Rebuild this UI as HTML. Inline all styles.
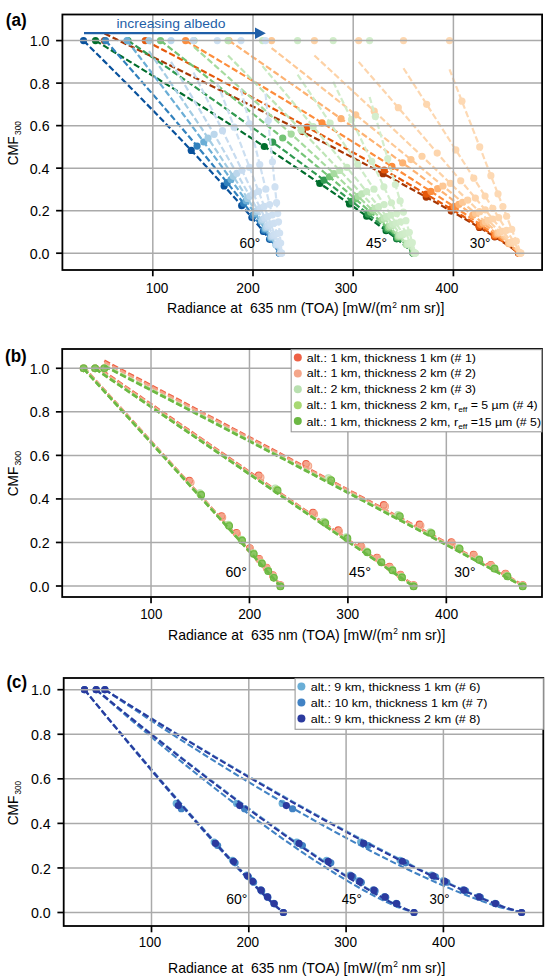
<!DOCTYPE html><html><head><meta charset="utf-8"><style>html,body{margin:0;padding:0;background:#fff;width:550px;height:979px;overflow:hidden}svg{display:block}text{font-family:"Liberation Sans",sans-serif;white-space:pre}</style></head><body>
<svg width="550" height="979" viewBox="0 0 550 979" font-family="Liberation Sans, sans-serif">
<rect width="550" height="979" fill="#fff"/>
<defs><clipPath id="ca"><rect x="62.4" y="14.5" width="479.7" height="255.5"/></clipPath></defs>
<g clip-path="url(#ca)">
<path d="M104.5,33.58 L115.87,39.07 L127.21,44.56 L138.52,50.06 L149.81,55.55 L161.06,61.04 L172.27,66.53 L183.46,72.02 L194.61,77.51 L205.72,83 L216.81,88.49 L227.85,93.98 L238.85,99.47 L249.82,104.96 L260.75,110.45 L271.63,115.94 L282.47,121.43 L293.27,126.92 L304.01,132.41 L314.71,137.9 L325.36,143.39 L335.96,148.88 L346.5,154.37 L356.98,159.86 L367.4,165.35 L377.75,170.84 L388.04,176.33 L398.25,181.82 L408.39,187.32 L418.44,192.81 L428.4,198.3 L438.26,203.79 L448.01,209.28 L457.64,214.77 L467.13,220.26 L476.47,225.75 L485.61,231.24 L494.54,236.73 L503.16,242.22 L511.34,247.71 L518.5,253.2" fill="none" stroke="#a63603" stroke-width="2.2" stroke-dasharray="6.3 2.7"/>
<circle cx="104.5" cy="40.6" r="3.6" fill="#a63603"/>
<circle cx="302.41" cy="131.59" r="3.6" fill="#a63603"/>
<circle cx="383.09" cy="173.69" r="3.6" fill="#a63603"/>
<circle cx="426.19" cy="197.07" r="3.6" fill="#a63603"/>
<circle cx="451.23" cy="211.11" r="3.6" fill="#a63603"/>
<circle cx="479.37" cy="227.48" r="3.6" fill="#a63603"/>
<circle cx="494.7" cy="236.83" r="3.6" fill="#a63603"/>
<circle cx="518.5" cy="253.2" r="3.6" fill="#a63603"/>
<path d="M145.3,40.6 L155.45,45.91 L165.57,51.23 L175.67,56.54 L185.75,61.86 L195.81,67.17 L205.83,72.49 L215.83,77.81 L225.81,83.12 L235.76,88.44 L245.68,93.75 L255.57,99.06 L265.43,104.38 L275.26,109.69 L285.06,115.01 L294.82,120.32 L304.55,125.64 L314.25,130.95 L323.9,136.27 L333.52,141.58 L343.1,146.9 L352.64,152.21 L362.13,157.53 L371.58,162.84 L380.97,168.16 L390.32,173.47 L399.61,178.79 L408.84,184.11 L418.01,189.42 L427.12,194.73 L436.15,200.05 L445.1,205.37 L453.96,210.68 L462.73,215.99 L471.39,221.31 L479.92,226.62 L488.3,231.94 L496.5,237.25 L504.45,242.57 L512.05,247.88 L518.8,253.2" fill="none" stroke="#e5580a" stroke-width="2.2" stroke-dasharray="6.3 2.7"/>
<circle cx="145.3" cy="40.6" r="3.6" fill="#e5580a"/>
<circle cx="307.17" cy="127.08" r="3.6" fill="#e5580a"/>
<circle cx="384.21" cy="170" r="3.6" fill="#e5580a"/>
<circle cx="426.24" cy="194.22" r="3.6" fill="#e5580a"/>
<circle cx="450.94" cy="208.86" r="3.6" fill="#e5580a"/>
<circle cx="478.98" cy="226.03" r="3.6" fill="#e5580a"/>
<circle cx="494.41" cy="235.89" r="3.6" fill="#e5580a"/>
<circle cx="518.8" cy="253.2" r="3.6" fill="#e5580a"/>
<path d="M185.6,40.6 L194.56,45.91 L203.51,51.23 L212.43,56.54 L221.34,61.86 L230.23,67.17 L239.1,72.49 L247.96,77.81 L256.79,83.12 L265.6,88.44 L274.38,93.75 L283.15,99.06 L291.89,104.38 L300.61,109.69 L309.31,115.01 L317.98,120.32 L326.62,125.64 L335.24,130.95 L343.82,136.27 L352.38,141.58 L360.91,146.9 L369.4,152.21 L377.86,157.53 L386.29,162.84 L394.67,168.16 L403.02,173.47 L411.33,178.79 L419.59,184.11 L427.8,189.42 L435.96,194.73 L444.06,200.05 L452.1,205.37 L460.08,210.68 L467.98,215.99 L475.79,221.31 L483.51,226.62 L491.1,231.94 L498.56,237.25 L505.82,242.57 L512.8,247.88 L519.1,253.2" fill="none" stroke="#fd8d3c" stroke-width="2.2" stroke-dasharray="6.3 2.7"/>
<circle cx="185.6" cy="40.6" r="3.6" fill="#fd8d3c"/>
<circle cx="321.98" cy="122.78" r="3.6" fill="#fd8d3c"/>
<circle cx="391.92" cy="166.41" r="3.6" fill="#fd8d3c"/>
<circle cx="430.88" cy="191.42" r="3.6" fill="#fd8d3c"/>
<circle cx="454.04" cy="206.65" r="3.6" fill="#fd8d3c"/>
<circle cx="480.59" cy="224.61" r="3.6" fill="#fd8d3c"/>
<circle cx="495.35" cy="234.95" r="3.6" fill="#fd8d3c"/>
<circle cx="519.1" cy="253.2" r="3.6" fill="#fd8d3c"/>
<path d="M229,40.6 L236.72,45.91 L244.42,51.23 L252.12,56.54 L259.8,61.86 L267.46,67.17 L275.11,72.49 L282.75,77.81 L290.37,83.12 L297.98,88.44 L305.57,93.75 L313.15,99.06 L320.71,104.38 L328.25,109.69 L335.77,115.01 L343.28,120.32 L350.76,125.64 L358.23,130.95 L365.68,136.27 L373.1,141.58 L380.5,146.9 L387.88,152.21 L395.23,157.53 L402.56,162.84 L409.86,168.16 L417.13,173.47 L424.36,178.79 L431.57,184.11 L438.74,189.42 L445.87,194.73 L452.96,200.05 L460.01,205.37 L467,210.68 L473.94,215.99 L480.82,221.31 L487.62,226.62 L494.34,231.94 L500.95,237.25 L507.41,242.57 L513.67,247.88 L519.4,253.2" fill="none" stroke="#fdb272" stroke-width="2.2" stroke-dasharray="6.3 2.7"/>
<circle cx="229" cy="40.6" r="3.6" fill="#fdb272"/>
<circle cx="340.99" cy="118.7" r="3.6" fill="#fdb272"/>
<circle cx="402.67" cy="162.93" r="3.6" fill="#fdb272"/>
<circle cx="437.74" cy="188.67" r="3.6" fill="#fdb272"/>
<circle cx="458.82" cy="204.47" r="3.6" fill="#fdb272"/>
<circle cx="483.23" cy="223.19" r="3.6" fill="#fdb272"/>
<circle cx="496.94" cy="234.02" r="3.6" fill="#fdb272"/>
<circle cx="519.4" cy="253.2" r="3.6" fill="#fdb272"/>
<circle cx="472.81" cy="215.13" r="3.6" fill="#fdb272"/>
<circle cx="508.62" cy="243.58" r="3.6" fill="#fdb272"/>
<path d="M271.6,48.04 L278.12,53.17 L284.63,58.3 L291.14,63.43 L297.63,68.56 L304.11,73.69 L310.59,78.81 L317.05,83.94 L323.51,89.07 L329.95,94.2 L336.39,99.33 L342.81,104.46 L349.22,109.59 L355.62,114.72 L362.01,119.85 L368.38,124.98 L374.74,130.1 L381.09,135.23 L387.42,140.36 L393.74,145.49 L400.04,150.62 L406.33,155.75 L412.6,160.88 L418.85,166.01 L425.08,171.14 L431.29,176.27 L437.48,181.39 L443.64,186.52 L449.79,191.65 L455.9,196.78 L461.99,201.91 L468.04,207.04 L474.06,212.17 L480.04,217.3 L485.98,222.43 L491.87,227.56 L497.69,232.68 L503.44,237.81 L509.08,242.94 L514.58,248.07 L519.7,253.2" fill="none" stroke="#fdc895" stroke-width="2.2" stroke-dasharray="6.3 2.7"/>
<circle cx="271.6" cy="40.6" r="3.6" fill="#fdc895"/>
<circle cx="355.75" cy="114.83" r="3.6" fill="#fdc895"/>
<circle cx="410.96" cy="159.54" r="3.6" fill="#fdc895"/>
<circle cx="442.99" cy="185.98" r="3.6" fill="#fdc895"/>
<circle cx="462.46" cy="202.31" r="3.6" fill="#fdc895"/>
<circle cx="485.24" cy="221.78" r="3.6" fill="#fdc895"/>
<circle cx="498.15" cy="233.09" r="3.6" fill="#fdc895"/>
<circle cx="519.7" cy="253.2" r="3.6" fill="#fdc895"/>
<circle cx="475.48" cy="213.38" r="3.6" fill="#fdc895"/>
<circle cx="509.25" cy="243.1" r="3.6" fill="#fdc895"/>
<path d="M314.4,55.48 L319.74,60.42 L325.08,65.37 L330.41,70.31 L335.74,75.25 L341.06,80.2 L346.37,85.14 L351.68,90.08 L356.98,95.03 L362.28,99.97 L367.56,104.91 L372.85,109.85 L378.12,114.8 L383.38,119.74 L388.64,124.68 L393.89,129.63 L399.14,134.57 L404.37,139.51 L409.59,144.46 L414.81,149.4 L420.01,154.34 L425.21,159.28 L430.39,164.23 L435.56,169.17 L440.72,174.11 L445.87,179.06 L451,184 L456.12,188.94 L461.22,193.88 L466.31,198.83 L471.37,203.77 L476.42,208.71 L481.44,213.66 L486.44,218.6 L491.41,223.54 L496.35,228.49 L501.25,233.43 L506.1,238.37 L510.88,243.31 L515.57,248.26 L520,253.2" fill="none" stroke="#fdd2a6" stroke-width="2.2" stroke-dasharray="6.3 2.7"/>
<circle cx="314.4" cy="40.6" r="3.6" fill="#fdd2a6"/>
<circle cx="374.22" cy="111.14" r="3.6" fill="#fdd2a6"/>
<circle cx="422.01" cy="156.24" r="3.6" fill="#fdd2a6"/>
<circle cx="450.3" cy="183.33" r="3.6" fill="#fdd2a6"/>
<circle cx="467.7" cy="200.18" r="3.6" fill="#fdd2a6"/>
<circle cx="488.24" cy="220.38" r="3.6" fill="#fdd2a6"/>
<circle cx="500.01" cy="232.17" r="3.6" fill="#fdd2a6"/>
<circle cx="520" cy="253.2" r="3.6" fill="#fdd2a6"/>
<circle cx="479.42" cy="211.66" r="3.6" fill="#fdd2a6"/>
<circle cx="510.22" cy="242.62" r="3.6" fill="#fdd2a6"/>
<path d="M358.7,61.86 L362.85,66.64 L367,71.43 L371.15,76.21 L375.29,80.99 L379.43,85.78 L383.56,90.56 L387.7,95.34 L391.83,100.13 L395.95,104.91 L400.07,109.69 L404.19,114.48 L408.3,119.26 L412.41,124.05 L416.52,128.83 L420.62,133.61 L424.72,138.4 L428.81,143.18 L432.9,147.96 L436.98,152.75 L441.05,157.53 L445.12,162.31 L449.19,167.1 L453.25,171.88 L457.3,176.66 L461.34,181.45 L465.38,186.23 L469.41,191.01 L473.43,195.8 L477.44,200.58 L481.44,205.36 L485.43,210.15 L489.4,214.93 L493.37,219.72 L497.31,224.5 L501.24,229.28 L505.15,234.07 L509.03,238.85 L512.87,243.63 L516.66,248.42 L520.3,253.2" fill="none" stroke="#fdd5ad" stroke-width="2.2" stroke-dasharray="6.3 2.7"/>
<circle cx="358.7" cy="40.6" r="3.6" fill="#fdd5ad"/>
<circle cx="398.3" cy="107.64" r="3.6" fill="#fdd5ad"/>
<circle cx="437.22" cy="153.04" r="3.6" fill="#fdd5ad"/>
<circle cx="460.73" cy="180.73" r="3.6" fill="#fdd5ad"/>
<circle cx="475.35" cy="198.09" r="3.6" fill="#fdd5ad"/>
<circle cx="492.77" cy="219" r="3.6" fill="#fdd5ad"/>
<circle cx="502.85" cy="231.25" r="3.6" fill="#fdd5ad"/>
<circle cx="520.3" cy="253.2" r="3.6" fill="#fdd5ad"/>
<circle cx="485.26" cy="209.95" r="3.6" fill="#fdd5ad"/>
<circle cx="511.68" cy="242.15" r="3.6" fill="#fdd5ad"/>
<path d="M403.5,68.24 L406.47,72.86 L409.45,77.49 L412.42,82.11 L415.39,86.73 L418.36,91.36 L421.32,95.98 L424.29,100.61 L427.25,105.23 L430.22,109.85 L433.18,114.48 L436.14,119.1 L439.1,123.73 L442.05,128.35 L445.01,132.97 L447.96,137.6 L450.91,142.22 L453.86,146.85 L456.81,151.47 L459.75,156.09 L462.7,160.72 L465.64,165.34 L468.57,169.97 L471.51,174.59 L474.44,179.22 L477.37,183.84 L480.3,188.46 L483.22,193.09 L486.14,197.71 L489.06,202.34 L491.97,206.96 L494.87,211.58 L497.78,216.21 L500.67,220.83 L503.56,225.46 L506.44,230.08 L509.31,234.7 L512.17,239.33 L515.02,243.95 L517.84,248.58 L520.6,253.2" fill="none" stroke="#fdd7b0" stroke-width="2.2" stroke-dasharray="6.3 2.7"/>
<circle cx="403.5" cy="40.6" r="3.6" fill="#fdd7b0"/>
<circle cx="426.66" cy="104.31" r="3.6" fill="#fdd7b0"/>
<circle cx="455.82" cy="149.92" r="3.6" fill="#fdd7b0"/>
<circle cx="473.78" cy="178.17" r="3.6" fill="#fdd7b0"/>
<circle cx="485.07" cy="196.01" r="3.6" fill="#fdd7b0"/>
<circle cx="498.66" cy="217.62" r="3.6" fill="#fdd7b0"/>
<circle cx="506.6" cy="230.34" r="3.6" fill="#fdd7b0"/>
<circle cx="520.6" cy="253.2" r="3.6" fill="#fdd7b0"/>
<circle cx="492.79" cy="208.26" r="3.6" fill="#fdd7b0"/>
<circle cx="513.62" cy="241.67" r="3.6" fill="#fdd7b0"/>
<path d="M449.5,69.3 L451.29,73.9 L453.08,78.5 L454.88,83.09 L456.67,87.69 L458.46,92.29 L460.25,96.89 L462.04,101.48 L463.83,106.08 L465.62,110.68 L467.41,115.28 L469.2,119.87 L470.99,124.47 L472.78,129.07 L474.57,133.67 L476.36,138.26 L478.15,142.86 L479.94,147.46 L481.72,152.06 L483.51,156.65 L485.3,161.25 L487.09,165.85 L488.87,170.45 L490.66,175.04 L492.44,179.64 L494.23,184.24 L496.01,188.84 L497.8,193.43 L499.58,198.03 L501.37,202.63 L503.15,207.23 L504.93,211.82 L506.71,216.42 L508.49,221.02 L510.27,225.62 L512.05,230.21 L513.83,234.81 L515.6,239.41 L517.37,244.01 L519.14,248.6 L520.9,253.2" fill="none" stroke="#fdd9b4" stroke-width="2.2" stroke-dasharray="6.3 2.7"/>
<circle cx="449.5" cy="40.6" r="3.6" fill="#fdd9b4"/>
<circle cx="461.91" cy="101.15" r="3.6" fill="#fdd9b4"/>
<circle cx="479.71" cy="146.89" r="3.6" fill="#fdd9b4"/>
<circle cx="490.9" cy="175.66" r="3.6" fill="#fdd9b4"/>
<circle cx="498.01" cy="193.97" r="3.6" fill="#fdd9b4"/>
<circle cx="506.65" cy="216.26" r="3.6" fill="#fdd9b4"/>
<circle cx="511.74" cy="229.43" r="3.6" fill="#fdd9b4"/>
<circle cx="520.9" cy="253.2" r="3.6" fill="#fdd9b4"/>
<circle cx="502.9" cy="206.59" r="3.6" fill="#fdd9b4"/>
<circle cx="516.29" cy="241.2" r="3.6" fill="#fdd9b4"/>
<path d="M95.5,40.6 L104.22,45.91 L112.92,51.23 L121.59,56.54 L130.24,61.86 L138.87,67.17 L147.48,72.49 L156.05,77.81 L164.61,83.12 L173.13,88.44 L181.63,93.75 L190.1,99.06 L198.54,104.38 L206.95,109.69 L215.33,115.01 L223.67,120.32 L231.99,125.64 L240.27,130.95 L248.51,136.27 L256.71,141.58 L264.88,146.9 L273.01,152.21 L281.09,157.53 L289.13,162.84 L297.12,168.16 L305.06,173.47 L312.95,178.79 L320.78,184.11 L328.55,189.42 L336.26,194.73 L343.9,200.05 L351.46,205.37 L358.94,210.68 L366.32,215.99 L373.6,221.31 L380.76,226.62 L387.78,231.94 L394.62,237.25 L401.23,242.57 L407.51,247.88 L413,253.2" fill="none" stroke="#006d2c" stroke-width="2.2" stroke-dasharray="6.3 2.7"/>
<circle cx="95.5" cy="40.6" r="3.6" fill="#006d2c"/>
<circle cx="264.29" cy="146.52" r="3.6" fill="#006d2c"/>
<circle cx="319.81" cy="183.45" r="3.6" fill="#006d2c"/>
<circle cx="349.47" cy="203.96" r="3.6" fill="#006d2c"/>
<circle cx="366.71" cy="216.27" r="3.6" fill="#006d2c"/>
<circle cx="386.07" cy="230.63" r="3.6" fill="#006d2c"/>
<circle cx="396.62" cy="238.84" r="3.6" fill="#006d2c"/>
<circle cx="413" cy="253.2" r="3.6" fill="#006d2c"/>
<path d="M128,40.6 L135.75,45.91 L143.49,51.23 L151.2,56.54 L158.9,61.86 L166.58,67.17 L174.24,72.49 L181.88,77.81 L189.5,83.12 L197.1,88.44 L204.67,93.75 L212.23,99.06 L219.76,104.38 L227.27,109.69 L234.75,115.01 L242.21,120.32 L249.64,125.64 L257.05,130.95 L264.43,136.27 L271.77,141.58 L279.09,146.9 L286.38,152.21 L293.63,157.53 L300.84,162.84 L308.02,168.16 L315.16,173.47 L322.26,178.79 L329.31,184.11 L336.31,189.42 L343.27,194.73 L350.17,200.05 L357,205.37 L363.78,210.68 L370.47,215.99 L377.08,221.31 L383.6,226.62 L390,231.94 L396.26,237.25 L402.34,242.57 L408.14,247.88 L413.3,253.2" fill="none" stroke="#319a51" stroke-width="2.2" stroke-dasharray="6.3 2.7"/>
<circle cx="128" cy="40.6" r="3.6" fill="#319a51"/>
<circle cx="272.6" cy="142.18" r="3.6" fill="#319a51"/>
<circle cx="323.97" cy="180.08" r="3.6" fill="#319a51"/>
<circle cx="351.91" cy="201.4" r="3.6" fill="#319a51"/>
<circle cx="368.31" cy="214.27" r="3.6" fill="#319a51"/>
<circle cx="386.91" cy="229.36" r="3.6" fill="#319a51"/>
<circle cx="397.14" cy="238.01" r="3.6" fill="#319a51"/>
<circle cx="413.3" cy="253.2" r="3.6" fill="#319a51"/>
<path d="M160.5,40.6 L167.3,45.91 L174.09,51.23 L180.87,56.54 L187.63,61.86 L194.37,67.17 L201.11,72.49 L207.82,77.81 L214.52,83.12 L221.21,88.44 L227.88,93.75 L234.53,99.06 L241.17,104.38 L247.79,109.69 L254.38,115.01 L260.96,120.32 L267.52,125.64 L274.06,130.95 L280.58,136.27 L287.07,141.58 L293.54,146.9 L299.99,152.21 L306.41,157.53 L312.81,162.84 L319.17,168.16 L325.51,173.47 L331.81,178.79 L338.08,184.11 L344.31,189.42 L350.5,194.73 L356.65,200.05 L362.76,205.37 L368.81,210.68 L374.8,215.99 L380.73,221.31 L386.59,226.62 L392.35,231.94 L398.01,237.25 L403.52,242.57 L408.82,247.88 L413.6,253.2" fill="none" stroke="#74c476" stroke-width="2.2" stroke-dasharray="6.3 2.7"/>
<circle cx="160.5" cy="40.6" r="3.6" fill="#74c476"/>
<circle cx="282.72" cy="138.02" r="3.6" fill="#74c476"/>
<circle cx="329.44" cy="176.79" r="3.6" fill="#74c476"/>
<circle cx="355.3" cy="198.88" r="3.6" fill="#74c476"/>
<circle cx="370.64" cy="212.29" r="3.6" fill="#74c476"/>
<circle cx="388.19" cy="228.09" r="3.6" fill="#74c476"/>
<circle cx="397.93" cy="237.18" r="3.6" fill="#74c476"/>
<circle cx="413.6" cy="253.2" r="3.6" fill="#74c476"/>
<path d="M194,46.98 L199.84,52.13 L205.68,57.29 L211.5,62.44 L217.32,67.6 L223.12,72.76 L228.92,77.91 L234.7,83.07 L240.47,88.22 L246.24,93.38 L251.98,98.53 L257.72,103.69 L263.44,108.84 L269.15,114 L274.85,119.16 L280.54,124.31 L286.2,129.47 L291.86,134.62 L297.5,139.78 L303.12,144.93 L308.72,150.09 L314.31,155.24 L319.87,160.4 L325.42,165.56 L330.95,170.71 L336.45,175.87 L341.94,181.02 L347.39,186.18 L352.82,191.33 L358.22,196.49 L363.59,201.64 L368.93,206.8 L374.22,211.96 L379.48,217.11 L384.69,222.27 L389.84,227.42 L394.92,232.58 L399.93,237.73 L404.82,242.89 L409.56,248.04 L413.9,253.2" fill="none" stroke="#a6db9f" stroke-width="2.2" stroke-dasharray="6.3 2.7"/>
<circle cx="194" cy="40.6" r="3.6" fill="#a6db9f"/>
<circle cx="291.21" cy="134.03" r="3.6" fill="#a6db9f"/>
<circle cx="334.01" cy="173.58" r="3.6" fill="#a6db9f"/>
<circle cx="358.13" cy="196.4" r="3.6" fill="#a6db9f"/>
<circle cx="372.57" cy="210.34" r="3.6" fill="#a6db9f"/>
<circle cx="389.25" cy="226.83" r="3.6" fill="#a6db9f"/>
<circle cx="398.6" cy="236.36" r="3.6" fill="#a6db9f"/>
<circle cx="413.9" cy="253.2" r="3.6" fill="#a6db9f"/>
<circle cx="382.14" cy="219.74" r="3.6" fill="#a6db9f"/>
<circle cx="406.56" cy="244.75" r="3.6" fill="#a6db9f"/>
<path d="M228,55.48 L232.89,60.42 L237.78,65.37 L242.66,70.31 L247.54,75.25 L252.4,80.2 L257.26,85.14 L262.11,90.08 L266.96,95.03 L271.8,99.97 L276.62,104.91 L281.44,109.85 L286.26,114.8 L291.06,119.74 L295.85,124.68 L300.63,129.63 L305.41,134.57 L310.17,139.51 L314.92,144.46 L319.67,149.4 L324.4,154.34 L329.11,159.28 L333.82,164.23 L338.51,169.17 L343.19,174.11 L347.85,179.06 L352.49,184 L357.12,188.94 L361.73,193.88 L366.32,198.83 L370.89,203.77 L375.43,208.71 L379.95,213.66 L384.44,218.6 L388.89,223.54 L393.31,228.49 L397.68,233.43 L401.99,238.37 L406.23,243.31 L410.36,248.26 L414.2,253.2" fill="none" stroke="#bee5b7" stroke-width="2.2" stroke-dasharray="6.3 2.7"/>
<circle cx="228" cy="40.6" r="3.6" fill="#bee5b7"/>
<circle cx="301.2" cy="130.21" r="3.6" fill="#bee5b7"/>
<circle cx="339.72" cy="170.44" r="3.6" fill="#bee5b7"/>
<circle cx="361.79" cy="193.95" r="3.6" fill="#bee5b7"/>
<circle cx="375.15" cy="208.41" r="3.6" fill="#bee5b7"/>
<circle cx="390.72" cy="225.58" r="3.6" fill="#bee5b7"/>
<circle cx="399.53" cy="235.54" r="3.6" fill="#bee5b7"/>
<circle cx="414.2" cy="253.2" r="3.6" fill="#bee5b7"/>
<circle cx="384.06" cy="218.18" r="3.6" fill="#bee5b7"/>
<circle cx="407.09" cy="244.33" r="3.6" fill="#bee5b7"/>
<path d="M262.5,66.11 L266.45,70.79 L270.4,75.47 L274.34,80.14 L278.28,84.82 L282.21,89.5 L286.14,94.18 L290.06,98.85 L293.98,103.53 L297.89,108.21 L301.8,112.88 L305.71,117.56 L309.61,122.24 L313.5,126.92 L317.39,131.59 L321.27,136.27 L325.14,140.95 L329.01,145.62 L332.88,150.3 L336.73,154.98 L340.58,159.66 L344.42,164.33 L348.25,169.01 L352.07,173.69 L355.89,178.36 L359.69,183.04 L363.49,187.72 L367.27,192.4 L371.04,197.07 L374.8,201.75 L378.55,206.43 L382.28,211.11 L386,215.78 L389.69,220.46 L393.37,225.14 L397.02,229.81 L400.64,234.49 L404.22,239.17 L407.76,243.85 L411.22,248.52 L414.5,253.2" fill="none" stroke="#c9eac3" stroke-width="2.2" stroke-dasharray="6.3 2.7"/>
<circle cx="262.5" cy="40.6" r="3.6" fill="#c9eac3"/>
<circle cx="313.19" cy="126.54" r="3.6" fill="#c9eac3"/>
<circle cx="346.92" cy="167.38" r="3.6" fill="#c9eac3"/>
<circle cx="366.59" cy="191.55" r="3.6" fill="#c9eac3"/>
<circle cx="378.61" cy="206.5" r="3.6" fill="#c9eac3"/>
<circle cx="392.74" cy="224.34" r="3.6" fill="#c9eac3"/>
<circle cx="400.82" cy="234.72" r="3.6" fill="#c9eac3"/>
<circle cx="414.5" cy="253.2" r="3.6" fill="#c9eac3"/>
<circle cx="386.68" cy="216.64" r="3.6" fill="#c9eac3"/>
<circle cx="407.81" cy="243.91" r="3.6" fill="#c9eac3"/>
<path d="M297.6,74.62 L300.61,79.08 L303.62,83.55 L306.63,88.01 L309.63,92.47 L312.63,96.94 L315.63,101.4 L318.63,105.87 L321.62,110.33 L324.62,114.8 L327.61,119.26 L330.59,123.73 L333.58,128.19 L336.56,132.66 L339.53,137.12 L342.51,141.58 L345.48,146.05 L348.45,150.51 L351.41,154.98 L354.37,159.44 L357.33,163.91 L360.28,168.37 L363.23,172.84 L366.17,177.3 L369.11,181.77 L372.04,186.23 L374.97,190.7 L377.89,195.16 L380.81,199.62 L383.71,204.09 L386.62,208.55 L389.51,213.02 L392.39,217.48 L395.27,221.95 L398.13,226.41 L400.98,230.88 L403.81,235.34 L406.62,239.81 L409.41,244.27 L412.16,248.74 L414.8,253.2" fill="none" stroke="#ceecc8" stroke-width="2.2" stroke-dasharray="6.3 2.7"/>
<circle cx="297.6" cy="40.6" r="3.6" fill="#ceecc8"/>
<circle cx="330.12" cy="123.02" r="3.6" fill="#ceecc8"/>
<circle cx="357.65" cy="164.39" r="3.6" fill="#ceecc8"/>
<circle cx="373.98" cy="189.18" r="3.6" fill="#ceecc8"/>
<circle cx="384.05" cy="204.61" r="3.6" fill="#ceecc8"/>
<circle cx="396.01" cy="223.11" r="3.6" fill="#ceecc8"/>
<circle cx="402.91" cy="233.91" r="3.6" fill="#ceecc8"/>
<circle cx="414.8" cy="253.2" r="3.6" fill="#ceecc8"/>
<circle cx="390.87" cy="215.12" r="3.6" fill="#ceecc8"/>
<circle cx="408.93" cy="243.49" r="3.6" fill="#ceecc8"/>
<path d="M333.2,81.84 L335.28,86.13 L337.36,90.41 L339.44,94.7 L341.51,98.98 L343.59,103.26 L345.67,107.55 L347.74,111.83 L349.81,116.12 L351.89,120.4 L353.96,124.68 L356.03,128.97 L358.1,133.25 L360.16,137.53 L362.23,141.82 L364.3,146.1 L366.36,150.39 L368.42,154.67 L370.48,158.95 L372.54,163.24 L374.6,167.52 L376.66,171.81 L378.71,176.09 L380.77,180.37 L382.82,184.66 L384.87,188.94 L386.91,193.23 L388.96,197.51 L391,201.79 L393.04,206.08 L395.07,210.36 L397.11,214.64 L399.14,218.93 L401.16,223.21 L403.18,227.5 L405.2,231.78 L407.21,236.06 L409.21,240.35 L411.2,244.63 L413.17,248.92 L415.1,253.2" fill="none" stroke="#d1edca" stroke-width="2.2" stroke-dasharray="6.3 2.7"/>
<circle cx="333.2" cy="40.6" r="3.6" fill="#d1edca"/>
<circle cx="351.52" cy="119.65" r="3.6" fill="#d1edca"/>
<circle cx="371.7" cy="161.47" r="3.6" fill="#d1edca"/>
<circle cx="383.87" cy="186.85" r="3.6" fill="#d1edca"/>
<circle cx="391.45" cy="202.74" r="3.6" fill="#d1edca"/>
<circle cx="400.53" cy="221.88" r="3.6" fill="#d1edca"/>
<circle cx="405.82" cy="233.1" r="3.6" fill="#d1edca"/>
<circle cx="415.1" cy="253.2" r="3.6" fill="#d1edca"/>
<circle cx="396.61" cy="213.6" r="3.6" fill="#d1edca"/>
<circle cx="410.48" cy="243.08" r="3.6" fill="#d1edca"/>
<path d="M369.6,96.94 L370.75,100.85 L371.9,104.75 L373.05,108.66 L374.2,112.57 L375.35,116.47 L376.5,120.38 L377.64,124.28 L378.79,128.19 L379.94,132.1 L381.09,136 L382.24,139.91 L383.39,143.82 L384.53,147.72 L385.68,151.63 L386.83,155.54 L387.98,159.44 L389.12,163.35 L390.27,167.26 L391.42,171.16 L392.56,175.07 L393.71,178.98 L394.86,182.88 L396,186.79 L397.15,190.7 L398.29,194.6 L399.44,198.51 L400.58,202.42 L401.73,206.32 L402.87,210.23 L404.01,214.13 L405.16,218.04 L406.3,221.95 L407.44,225.85 L408.58,229.76 L409.72,233.67 L410.86,237.57 L412,241.48 L413.14,245.39 L414.27,249.29 L415.4,253.2" fill="none" stroke="#d3eecd" stroke-width="2.2" stroke-dasharray="6.3 2.7"/>
<circle cx="369.6" cy="40.6" r="3.6" fill="#d3eecd"/>
<circle cx="375.33" cy="116.41" r="3.6" fill="#d3eecd"/>
<circle cx="387.74" cy="158.63" r="3.6" fill="#d3eecd"/>
<circle cx="395.35" cy="184.56" r="3.6" fill="#d3eecd"/>
<circle cx="400.14" cy="200.9" r="3.6" fill="#d3eecd"/>
<circle cx="405.92" cy="220.67" r="3.6" fill="#d3eecd"/>
<circle cx="409.32" cy="232.29" r="3.6" fill="#d3eecd"/>
<circle cx="415.4" cy="253.2" r="3.6" fill="#d3eecd"/>
<circle cx="403.42" cy="212.1" r="3.6" fill="#d3eecd"/>
<circle cx="412.34" cy="242.66" r="3.6" fill="#d3eecd"/>
<path d="M83.5,40.6 L88.88,45.91 L94.24,51.23 L99.59,56.54 L104.93,61.86 L110.25,67.17 L115.55,72.49 L120.84,77.81 L126.12,83.12 L131.37,88.44 L136.61,93.75 L141.84,99.06 L147.04,104.38 L152.23,109.69 L157.4,115.01 L162.54,120.32 L167.67,125.64 L172.78,130.95 L177.86,136.27 L182.92,141.58 L187.96,146.9 L192.97,152.21 L197.95,157.53 L202.91,162.84 L207.84,168.16 L212.73,173.47 L217.6,178.79 L222.43,184.11 L227.22,189.42 L231.98,194.73 L236.69,200.05 L241.35,205.37 L245.96,210.68 L250.52,215.99 L255.01,221.31 L259.42,226.62 L263.75,231.94 L267.97,237.25 L272.04,242.57 L275.92,247.88 L279.3,253.2" fill="none" stroke="#08519c" stroke-width="2.2" stroke-dasharray="6.3 2.7"/>
<circle cx="83.5" cy="40.6" r="3.6" fill="#08519c"/>
<circle cx="191.25" cy="150.39" r="3.6" fill="#08519c"/>
<circle cx="224.12" cy="185.98" r="3.6" fill="#08519c"/>
<circle cx="241.68" cy="205.75" r="3.6" fill="#08519c"/>
<circle cx="251.89" cy="217.61" r="3.6" fill="#08519c"/>
<circle cx="263.35" cy="231.45" r="3.6" fill="#08519c"/>
<circle cx="269.6" cy="239.36" r="3.6" fill="#08519c"/>
<circle cx="279.3" cy="253.2" r="3.6" fill="#08519c"/>
<path d="M105.5,40.6 L110.23,45.91 L114.95,51.23 L119.66,56.54 L124.36,61.86 L129.04,67.17 L133.72,72.49 L138.38,77.81 L143.03,83.12 L147.67,88.44 L152.29,93.75 L156.9,99.06 L161.5,104.38 L166.08,109.69 L170.64,115.01 L175.2,120.32 L179.73,125.64 L184.25,130.95 L188.75,136.27 L193.24,141.58 L197.7,146.9 L202.15,152.21 L206.57,157.53 L210.97,162.84 L215.35,168.16 L219.71,173.47 L224.04,178.79 L228.35,184.11 L232.62,189.42 L236.86,194.73 L241.07,200.05 L245.25,205.37 L249.38,210.68 L253.46,215.99 L257.5,221.31 L261.48,226.62 L265.38,231.94 L269.2,237.25 L272.91,242.57 L276.45,247.88 L279.6,253.2" fill="none" stroke="#3181bd" stroke-width="2.2" stroke-dasharray="6.3 2.7"/>
<circle cx="105.5" cy="40.6" r="3.6" fill="#3181bd"/>
<circle cx="197.05" cy="146.12" r="3.6" fill="#3181bd"/>
<circle cx="227.21" cy="182.7" r="3.6" fill="#3181bd"/>
<circle cx="243.6" cy="203.26" r="3.6" fill="#3181bd"/>
<circle cx="253.22" cy="215.68" r="3.6" fill="#3181bd"/>
<circle cx="264.13" cy="230.22" r="3.6" fill="#3181bd"/>
<circle cx="270.13" cy="238.56" r="3.6" fill="#3181bd"/>
<circle cx="279.6" cy="253.2" r="3.6" fill="#3181bd"/>
<path d="M127,40.6 L131.11,45.91 L135.21,51.23 L139.3,56.54 L143.39,61.86 L147.46,67.17 L151.53,72.49 L155.59,77.81 L159.64,83.12 L163.68,88.44 L167.71,93.75 L171.72,99.06 L175.73,104.38 L179.73,109.69 L183.72,115.01 L187.69,120.32 L191.65,125.64 L195.6,130.95 L199.54,136.27 L203.46,141.58 L207.37,146.9 L211.27,152.21 L215.15,157.53 L219.01,162.84 L222.85,168.16 L226.68,173.47 L230.49,178.79 L234.28,184.11 L238.04,189.42 L241.78,194.73 L245.5,200.05 L249.18,205.37 L252.84,210.68 L256.46,215.99 L260.04,221.31 L263.58,226.62 L267.06,231.94 L270.48,237.25 L273.81,242.57 L277.01,247.88 L279.9,253.2" fill="none" stroke="#6baed6" stroke-width="2.2" stroke-dasharray="6.3 2.7"/>
<circle cx="127" cy="40.6" r="3.6" fill="#6baed6"/>
<circle cx="203.78" cy="142.02" r="3.6" fill="#6baed6"/>
<circle cx="230.99" cy="179.49" r="3.6" fill="#6baed6"/>
<circle cx="246.03" cy="200.82" r="3.6" fill="#6baed6"/>
<circle cx="254.95" cy="213.76" r="3.6" fill="#6baed6"/>
<circle cx="265.14" cy="229" r="3.6" fill="#6baed6"/>
<circle cx="270.8" cy="237.76" r="3.6" fill="#6baed6"/>
<circle cx="279.9" cy="253.2" r="3.6" fill="#6baed6"/>
<path d="M149,51.23 L152.49,56.28 L155.97,61.33 L159.44,66.38 L162.91,71.43 L166.38,76.48 L169.83,81.53 L173.28,86.57 L176.73,91.62 L180.17,96.67 L183.6,101.72 L187.02,106.77 L190.43,111.82 L193.84,116.87 L197.24,121.92 L200.63,126.97 L204.01,132.02 L207.39,137.07 L210.75,142.12 L214.1,147.17 L217.45,152.21 L220.78,157.26 L224.1,162.31 L227.41,167.36 L230.71,172.41 L233.99,177.46 L237.26,182.51 L240.52,187.56 L243.76,192.61 L246.98,197.66 L250.18,202.71 L253.37,207.76 L256.53,212.81 L259.66,217.86 L262.77,222.9 L265.84,227.95 L268.88,233 L271.86,238.05 L274.78,243.1 L277.61,248.15 L280.2,253.2" fill="none" stroke="#a3cce3" stroke-width="2.2" stroke-dasharray="6.3 2.7"/>
<circle cx="149" cy="40.6" r="3.6" fill="#a3cce3"/>
<circle cx="208.06" cy="138.07" r="3.6" fill="#a3cce3"/>
<circle cx="233.28" cy="176.36" r="3.6" fill="#a3cce3"/>
<circle cx="247.46" cy="198.41" r="3.6" fill="#a3cce3"/>
<circle cx="255.94" cy="211.87" r="3.6" fill="#a3cce3"/>
<circle cx="265.74" cy="227.78" r="3.6" fill="#a3cce3"/>
<circle cx="271.23" cy="236.97" r="3.6" fill="#a3cce3"/>
<circle cx="280.2" cy="253.2" r="3.6" fill="#a3cce3"/>
<circle cx="261.56" cy="220.93" r="3.6" fill="#a3cce3"/>
<circle cx="275.89" cy="245.06" r="3.6" fill="#a3cce3"/>
<path d="M171,61.86 L173.88,66.64 L176.75,71.43 L179.62,76.21 L182.49,80.99 L185.35,85.78 L188.21,90.56 L191.06,95.34 L193.91,100.13 L196.75,104.91 L199.59,109.69 L202.43,114.48 L205.26,119.26 L208.08,124.05 L210.9,128.83 L213.71,133.61 L216.52,138.4 L219.32,143.18 L222.12,147.96 L224.91,152.75 L227.69,157.53 L230.46,162.31 L233.23,167.1 L235.99,171.88 L238.74,176.66 L241.48,181.45 L244.21,186.23 L246.93,191.01 L249.64,195.8 L252.34,200.58 L255.03,205.36 L257.7,210.15 L260.36,214.93 L263,219.72 L265.62,224.5 L268.22,229.28 L270.79,234.07 L273.32,238.85 L275.81,243.63 L278.24,248.42 L280.5,253.2" fill="none" stroke="#bcd7ec" stroke-width="2.2" stroke-dasharray="6.3 2.7"/>
<circle cx="171" cy="40.6" r="3.6" fill="#bcd7ec"/>
<circle cx="214.11" cy="134.28" r="3.6" fill="#bcd7ec"/>
<circle cx="236.81" cy="173.3" r="3.6" fill="#bcd7ec"/>
<circle cx="249.78" cy="196.03" r="3.6" fill="#bcd7ec"/>
<circle cx="257.62" cy="210" r="3.6" fill="#bcd7ec"/>
<circle cx="266.75" cy="226.57" r="3.6" fill="#bcd7ec"/>
<circle cx="271.91" cy="236.17" r="3.6" fill="#bcd7ec"/>
<circle cx="280.5" cy="253.2" r="3.6" fill="#bcd7ec"/>
<circle cx="262.84" cy="219.43" r="3.6" fill="#bcd7ec"/>
<circle cx="276.34" cy="244.65" r="3.6" fill="#bcd7ec"/>
<path d="M193.5,72.49 L195.77,77.01 L198.03,81.53 L200.3,86.04 L202.56,90.56 L204.82,95.08 L207.08,99.6 L209.33,104.11 L211.58,108.63 L213.83,113.15 L216.07,117.67 L218.32,122.19 L220.56,126.7 L222.79,131.22 L225.02,135.74 L227.25,140.26 L229.48,144.77 L231.7,149.29 L233.92,153.81 L236.13,158.33 L238.34,162.84 L240.55,167.36 L242.75,171.88 L244.95,176.4 L247.14,180.92 L249.32,185.43 L251.5,189.95 L253.67,194.47 L255.84,198.99 L258,203.5 L260.15,208.02 L262.3,212.54 L264.43,217.06 L266.55,221.58 L268.66,226.09 L270.76,230.61 L272.84,235.13 L274.9,239.65 L276.93,244.16 L278.92,248.68 L280.8,253.2" fill="none" stroke="#c8dcf0" stroke-width="2.2" stroke-dasharray="6.3 2.7"/>
<circle cx="193.5" cy="40.6" r="3.6" fill="#c8dcf0"/>
<circle cx="222.51" cy="130.64" r="3.6" fill="#c8dcf0"/>
<circle cx="241.99" cy="170.31" r="3.6" fill="#c8dcf0"/>
<circle cx="253.3" cy="193.7" r="3.6" fill="#c8dcf0"/>
<circle cx="260.21" cy="208.14" r="3.6" fill="#c8dcf0"/>
<circle cx="268.33" cy="225.37" r="3.6" fill="#c8dcf0"/>
<circle cx="272.96" cy="235.39" r="3.6" fill="#c8dcf0"/>
<circle cx="280.8" cy="253.2" r="3.6" fill="#c8dcf0"/>
<circle cx="264.84" cy="217.94" r="3.6" fill="#c8dcf0"/>
<circle cx="276.97" cy="244.25" r="3.6" fill="#c8dcf0"/>
<path d="M217.3,83.12 L218.94,87.37 L220.58,91.62 L222.21,95.88 L223.85,100.13 L225.48,104.38 L227.12,108.63 L228.75,112.88 L230.38,117.14 L232.01,121.39 L233.63,125.64 L235.26,129.89 L236.88,134.14 L238.51,138.4 L240.13,142.65 L241.75,146.9 L243.36,151.15 L244.98,155.4 L246.59,159.66 L248.2,163.91 L249.81,168.16 L251.42,172.41 L253.02,176.66 L254.63,180.92 L256.23,185.17 L257.82,189.42 L259.42,193.67 L261.01,197.92 L262.59,202.18 L264.18,206.43 L265.76,210.68 L267.33,214.93 L268.9,219.18 L270.47,223.44 L272.03,227.69 L273.58,231.94 L275.12,236.19 L276.65,240.44 L278.17,244.7 L279.66,248.95 L281.1,253.2" fill="none" stroke="#ccdff1" stroke-width="2.2" stroke-dasharray="6.3 2.7"/>
<circle cx="217.3" cy="40.6" r="3.6" fill="#ccdff1"/>
<circle cx="234.21" cy="127.14" r="3.6" fill="#ccdff1"/>
<circle cx="249.52" cy="167.38" r="3.6" fill="#ccdff1"/>
<circle cx="258.56" cy="191.39" r="3.6" fill="#ccdff1"/>
<circle cx="264.14" cy="206.31" r="3.6" fill="#ccdff1"/>
<circle cx="270.74" cy="224.18" r="3.6" fill="#ccdff1"/>
<circle cx="274.54" cy="234.6" r="3.6" fill="#ccdff1"/>
<circle cx="281.1" cy="253.2" r="3.6" fill="#ccdff1"/>
<circle cx="267.9" cy="216.46" r="3.6" fill="#ccdff1"/>
<circle cx="277.86" cy="243.84" r="3.6" fill="#ccdff1"/>
<path d="M241,89.5 L242.03,93.59 L243.05,97.68 L244.08,101.78 L245.1,105.87 L246.13,109.96 L247.15,114.05 L248.17,118.15 L249.2,122.24 L250.22,126.33 L251.24,130.42 L252.26,134.52 L253.28,138.61 L254.3,142.7 L255.32,146.79 L256.34,150.89 L257.36,154.98 L258.37,159.07 L259.39,163.16 L260.41,167.26 L261.42,171.35 L262.44,175.44 L263.45,179.53 L264.46,183.63 L265.48,187.72 L266.49,191.81 L267.5,195.9 L268.5,200 L269.51,204.09 L270.52,208.18 L271.52,212.27 L272.52,216.37 L273.53,220.46 L274.52,224.55 L275.52,228.64 L276.52,232.74 L277.51,236.83 L278.49,240.92 L279.47,245.01 L280.45,249.11 L281.4,253.2" fill="none" stroke="#cee0f2" stroke-width="2.2" stroke-dasharray="6.3 2.7"/>
<circle cx="241" cy="40.6" r="3.6" fill="#cee0f2"/>
<circle cx="249.58" cy="123.78" r="3.6" fill="#cee0f2"/>
<circle cx="259.73" cy="164.53" r="3.6" fill="#cee0f2"/>
<circle cx="265.82" cy="189.13" r="3.6" fill="#cee0f2"/>
<circle cx="269.61" cy="204.5" r="3.6" fill="#cee0f2"/>
<circle cx="274.14" cy="222.99" r="3.6" fill="#cee0f2"/>
<circle cx="276.78" cy="233.82" r="3.6" fill="#cee0f2"/>
<circle cx="281.4" cy="253.2" r="3.6" fill="#cee0f2"/>
<circle cx="272.19" cy="215" r="3.6" fill="#cee0f2"/>
<circle cx="279.1" cy="243.44" r="3.6" fill="#cee0f2"/>
<path d="M265.5,93.75 L265.91,97.74 L266.31,101.72 L266.72,105.71 L267.13,109.69 L267.53,113.68 L267.94,117.67 L268.35,121.65 L268.75,125.64 L269.16,129.63 L269.56,133.61 L269.97,137.6 L270.38,141.59 L270.78,145.57 L271.19,149.56 L271.59,153.54 L272,157.53 L272.41,161.52 L272.81,165.5 L273.22,169.49 L273.62,173.47 L274.03,177.46 L274.43,181.45 L274.84,185.43 L275.24,189.42 L275.65,193.41 L276.05,197.39 L276.46,201.38 L276.86,205.36 L277.27,209.35 L277.67,213.34 L278.08,217.32 L278.48,221.31 L278.88,225.3 L279.29,229.28 L279.69,233.27 L280.09,237.25 L280.5,241.24 L280.9,245.23 L281.3,249.21 L281.7,253.2" fill="none" stroke="#d0e1f2" stroke-width="2.2" stroke-dasharray="6.3 2.7"/>
<circle cx="265.5" cy="40.6" r="3.6" fill="#d0e1f2"/>
<circle cx="268.23" cy="120.54" r="3.6" fill="#d0e1f2"/>
<circle cx="272.43" cy="161.73" r="3.6" fill="#d0e1f2"/>
<circle cx="274.99" cy="186.89" r="3.6" fill="#d0e1f2"/>
<circle cx="276.59" cy="202.71" r="3.6" fill="#d0e1f2"/>
<circle cx="278.53" cy="221.82" r="3.6" fill="#d0e1f2"/>
<circle cx="279.67" cy="233.04" r="3.6" fill="#d0e1f2"/>
<circle cx="281.7" cy="253.2" r="3.6" fill="#d0e1f2"/>
<circle cx="277.69" cy="213.54" r="3.6" fill="#d0e1f2"/>
<circle cx="280.68" cy="243.04" r="3.6" fill="#d0e1f2"/>
</g>
<g stroke="#aaaaaa" stroke-width="1.5">
<line x1="152.8" y1="14.5" x2="152.8" y2="270"/>
<line x1="253" y1="14.5" x2="253" y2="270"/>
<line x1="353.2" y1="14.5" x2="353.2" y2="270"/>
<line x1="453.4" y1="14.5" x2="453.4" y2="270"/>
<line x1="62.4" y1="253.2" x2="542.1" y2="253.2"/>
<line x1="62.4" y1="210.68" x2="542.1" y2="210.68"/>
<line x1="62.4" y1="168.16" x2="542.1" y2="168.16"/>
<line x1="62.4" y1="125.64" x2="542.1" y2="125.64"/>
<line x1="62.4" y1="83.12" x2="542.1" y2="83.12"/>
<line x1="62.4" y1="40.6" x2="542.1" y2="40.6"/>
</g>
<rect x="62.4" y="14.5" width="479.7" height="255.5" fill="none" stroke="#000" stroke-width="1.8"/>
<g stroke="#000" stroke-width="1.7">
<line x1="56.1" y1="253.2" x2="62.4" y2="253.2"/>
<line x1="56.1" y1="210.68" x2="62.4" y2="210.68"/>
<line x1="56.1" y1="168.16" x2="62.4" y2="168.16"/>
<line x1="56.1" y1="125.64" x2="62.4" y2="125.64"/>
<line x1="56.1" y1="83.12" x2="62.4" y2="83.12"/>
<line x1="56.1" y1="40.6" x2="62.4" y2="40.6"/>
<line x1="152.8" y1="270" x2="152.8" y2="276.3"/>
<line x1="253" y1="270" x2="253" y2="276.3"/>
<line x1="353.2" y1="270" x2="353.2" y2="276.3"/>
<line x1="453.4" y1="270" x2="453.4" y2="276.3"/>
</g>
<line x1="84" y1="33.2" x2="256" y2="33.2" stroke="#1f5fa8" stroke-width="2.2"/>
<path d="M255 27.5 L265.8 33.2 L255 38.9 Z" fill="#1f5fa8"/>
<text x="116.51" y="28" font-size="12.9" fill="#1f5fa8" textLength="109.02" lengthAdjust="spacingAndGlyphs">increasing albedo</text>
<g>
<text x="29.78" y="258.76" font-size="14.5" fill="#000" textLength="19.75" lengthAdjust="spacingAndGlyphs">0.0</text>
<text x="29.96" y="216.24" font-size="14.5" fill="#000" textLength="19.75" lengthAdjust="spacingAndGlyphs">0.2</text>
<text x="29.64" y="173.72" font-size="14.5" fill="#000" textLength="19.75" lengthAdjust="spacingAndGlyphs">0.4</text>
<text x="29.85" y="131.2" font-size="14.5" fill="#000" textLength="19.75" lengthAdjust="spacingAndGlyphs">0.6</text>
<text x="29.85" y="88.68" font-size="14.5" fill="#000" textLength="19.75" lengthAdjust="spacingAndGlyphs">0.8</text>
<text x="29.78" y="46.16" font-size="14.5" fill="#000" textLength="19.75" lengthAdjust="spacingAndGlyphs">1.0</text>
<text x="145.73" y="292.9" font-size="14.5" fill="#000" textLength="22.64" lengthAdjust="spacingAndGlyphs">100</text>
<text x="236.35" y="292.9" font-size="14.5" fill="#000" textLength="23.34" lengthAdjust="spacingAndGlyphs">200</text>
<text x="334.64" y="292.9" font-size="14.5" fill="#000" textLength="22.53" lengthAdjust="spacingAndGlyphs">300</text>
<text x="435.54" y="292.9" font-size="14.5" fill="#000" textLength="22.84" lengthAdjust="spacingAndGlyphs">400</text>
<text x="239.57" y="248.1" font-size="14.5" fill="#000" textLength="20.7" lengthAdjust="spacingAndGlyphs">60°</text>
<text x="366.04" y="248.1" font-size="14.5" fill="#000" textLength="20.94" lengthAdjust="spacingAndGlyphs">45°</text>
<text x="469.84" y="248.4" font-size="14.5" fill="#000" textLength="20.63" lengthAdjust="spacingAndGlyphs">30°</text>
<text transform="translate(18,165.22) rotate(-90)" x="0" y="0" font-size="14.3" fill="#000" textLength="28.92" lengthAdjust="spacingAndGlyphs">CMF</text>
<text transform="translate(21,135.07) rotate(-90)" x="0" y="0" font-size="8.6" fill="#000" textLength="14.14" lengthAdjust="spacingAndGlyphs">300</text>
<text x="167.04" y="313.3" font-size="13.9" fill="#000" textLength="224.77" lengthAdjust="spacingAndGlyphs">Radiance at  635 nm (TOA) [mW/(m</text>
<text x="392.21" y="307.7" font-size="8.34" fill="#000">2</text>
<text x="396.66" y="313.3" font-size="13.9" fill="#000" textLength="47.65" lengthAdjust="spacingAndGlyphs" xml:space="preserve"> nm sr)]</text>
<text x="5.69" y="26.4" font-size="18" font-weight="bold" fill="#000" textLength="21.01" lengthAdjust="spacingAndGlyphs">(a)</text>
</g>
<defs><clipPath id="cb"><rect x="62.2" y="349" width="479.8" height="248"/></clipPath></defs>
<g clip-path="url(#cb)">
<path d="M83.6,367.3 L88.57,372.74 L93.54,378.19 L98.5,383.63 L103.47,389.07 L108.43,394.51 L113.39,399.96 L118.35,405.4 L123.31,410.84 L128.27,416.28 L133.22,421.73 L138.18,427.17 L143.13,432.61 L148.08,438.05 L153.03,443.5 L157.98,448.94 L162.92,454.38 L167.86,459.82 L172.81,465.26 L177.74,470.71 L182.68,476.15 L187.61,481.59 L192.54,487.04 L197.47,492.48 L202.4,497.92 L207.32,503.36 L212.24,508.81 L217.15,514.25 L222.07,519.69 L226.97,525.13 L231.88,530.58 L236.78,536.02 L241.67,541.46 L246.56,546.9 L251.43,552.35 L256.31,557.79 L261.17,563.23 L266.02,568.67 L270.85,574.12 L275.66,579.56 L280.4,585" fill="none" stroke="#ee6145" stroke-width="2.6" stroke-dasharray="6.3 2.7"/>
<circle cx="83.6" cy="368.3" r="3.3" fill="#ee6145" fill-opacity="0.6" stroke="#ee6145" stroke-width="1.1"/>
<circle cx="189.34" cy="480.5" r="3.3" fill="#ee6145" fill-opacity="0.6" stroke="#ee6145" stroke-width="1.1"/>
<circle cx="221.5" cy="515.99" r="3.3" fill="#ee6145" fill-opacity="0.6" stroke="#ee6145" stroke-width="1.1"/>
<circle cx="236.42" cy="532.75" r="3.3" fill="#ee6145" fill-opacity="0.6" stroke="#ee6145" stroke-width="1.1"/>
<circle cx="249.78" cy="547.99" r="3.3" fill="#ee6145" fill-opacity="0.6" stroke="#ee6145" stroke-width="1.1"/>
<circle cx="259.16" cy="558.88" r="3.3" fill="#ee6145" fill-opacity="0.6" stroke="#ee6145" stroke-width="1.1"/>
<circle cx="266.52" cy="567.58" r="3.3" fill="#ee6145" fill-opacity="0.6" stroke="#ee6145" stroke-width="1.1"/>
<circle cx="272.82" cy="575.2" r="3.3" fill="#ee6145" fill-opacity="0.6" stroke="#ee6145" stroke-width="1.1"/>
<circle cx="280.4" cy="585" r="3.3" fill="#ee6145" fill-opacity="0.6" stroke="#ee6145" stroke-width="1.1"/>
<path d="M95.1,365.56 L103.06,371.04 L111.03,376.53 L118.99,382.02 L126.95,387.5 L134.91,392.99 L142.88,398.47 L150.84,403.96 L158.8,409.45 L166.76,414.93 L174.73,420.42 L182.69,425.9 L190.65,431.39 L198.61,436.88 L206.58,442.36 L214.54,447.85 L222.5,453.34 L230.46,458.82 L238.43,464.31 L246.39,469.79 L254.35,475.28 L262.31,480.77 L270.28,486.25 L278.24,491.74 L286.2,497.22 L294.16,502.71 L302.12,508.2 L310.09,513.68 L318.05,519.17 L326.01,524.65 L333.98,530.14 L341.94,535.63 L349.9,541.11 L357.86,546.6 L365.83,552.08 L373.79,557.57 L381.75,563.06 L389.71,568.54 L397.68,574.03 L405.64,579.51 L413.6,585" fill="none" stroke="#ee6145" stroke-width="2.6" stroke-dasharray="6.3 2.7"/>
<circle cx="95.1" cy="368.3" r="3.3" fill="#ee6145" fill-opacity="0.6" stroke="#ee6145" stroke-width="1.1"/>
<circle cx="258.7" cy="475.28" r="3.3" fill="#ee6145" fill-opacity="0.6" stroke="#ee6145" stroke-width="1.1"/>
<circle cx="312.99" cy="512.54" r="3.3" fill="#ee6145" fill-opacity="0.6" stroke="#ee6145" stroke-width="1.1"/>
<circle cx="338.27" cy="530.14" r="3.3" fill="#ee6145" fill-opacity="0.6" stroke="#ee6145" stroke-width="1.1"/>
<circle cx="360.97" cy="546.14" r="3.3" fill="#ee6145" fill-opacity="0.6" stroke="#ee6145" stroke-width="1.1"/>
<circle cx="376.97" cy="557.57" r="3.3" fill="#ee6145" fill-opacity="0.6" stroke="#ee6145" stroke-width="1.1"/>
<circle cx="389.57" cy="566.71" r="3.3" fill="#ee6145" fill-opacity="0.6" stroke="#ee6145" stroke-width="1.1"/>
<circle cx="400.39" cy="574.71" r="3.3" fill="#ee6145" fill-opacity="0.6" stroke="#ee6145" stroke-width="1.1"/>
<circle cx="413.6" cy="585" r="3.3" fill="#ee6145" fill-opacity="0.6" stroke="#ee6145" stroke-width="1.1"/>
<path d="M104.3,360.77 L114.97,366.37 L125.63,371.98 L136.28,377.59 L146.93,383.19 L157.58,388.8 L168.21,394.4 L178.85,400.01 L189.47,405.62 L200.09,411.22 L210.7,416.83 L221.3,422.43 L231.9,428.04 L242.49,433.64 L253.07,439.25 L263.65,444.86 L274.21,450.46 L284.77,456.07 L295.32,461.67 L305.85,467.28 L316.38,472.88 L326.9,478.49 L337.4,484.1 L347.9,489.7 L358.38,495.31 L368.85,500.91 L379.3,506.52 L389.74,512.12 L400.17,517.73 L410.57,523.34 L420.96,528.94 L431.33,534.55 L441.67,540.15 L451.99,545.76 L462.28,551.37 L472.53,556.97 L482.74,562.58 L492.9,568.18 L503,573.79 L512.98,579.39 L522.7,585" fill="none" stroke="#ee6145" stroke-width="2.6" stroke-dasharray="6.3 2.7"/>
<circle cx="104.3" cy="368.3" r="3.3" fill="#ee6145" fill-opacity="0.6" stroke="#ee6145" stroke-width="1.1"/>
<circle cx="306.05" cy="463.78" r="3.3" fill="#ee6145" fill-opacity="0.6" stroke="#ee6145" stroke-width="1.1"/>
<circle cx="383.72" cy="504.95" r="3.3" fill="#ee6145" fill-opacity="0.6" stroke="#ee6145" stroke-width="1.1"/>
<circle cx="419.51" cy="524.39" r="3.3" fill="#ee6145" fill-opacity="0.6" stroke="#ee6145" stroke-width="1.1"/>
<circle cx="451.35" cy="542.07" r="3.3" fill="#ee6145" fill-opacity="0.6" stroke="#ee6145" stroke-width="1.1"/>
<circle cx="473.55" cy="554.7" r="3.3" fill="#ee6145" fill-opacity="0.6" stroke="#ee6145" stroke-width="1.1"/>
<circle cx="490.85" cy="564.8" r="3.3" fill="#ee6145" fill-opacity="0.6" stroke="#ee6145" stroke-width="1.1"/>
<circle cx="505.49" cy="573.64" r="3.3" fill="#ee6145" fill-opacity="0.6" stroke="#ee6145" stroke-width="1.1"/>
<circle cx="522.7" cy="585" r="3.3" fill="#ee6145" fill-opacity="0.6" stroke="#ee6145" stroke-width="1.1"/>
<path d="M83.6,367.6 L88.57,373.04 L93.54,378.49 L98.5,383.93 L103.47,389.37 L108.43,394.81 L113.39,400.26 L118.35,405.7 L123.31,411.14 L128.27,416.58 L133.22,422.03 L138.18,427.47 L143.13,432.91 L148.08,438.35 L153.03,443.8 L157.98,449.24 L162.92,454.68 L167.86,460.12 L172.81,465.56 L177.74,471.01 L182.68,476.45 L187.61,481.89 L192.54,487.34 L197.47,492.78 L202.4,498.22 L207.32,503.66 L212.24,509.11 L217.15,514.55 L222.07,519.99 L226.97,525.43 L231.88,530.88 L236.78,536.32 L241.67,541.76 L246.56,547.2 L251.43,552.64 L256.31,558.09 L261.17,563.53 L266.02,568.97 L270.85,574.41 L275.66,579.86 L280.4,585.3" fill="none" stroke="#f4a68a" stroke-width="2.6" stroke-dasharray="6.3 2.7"/>
<circle cx="83.6" cy="368.3" r="3.3" fill="#f4a68a" fill-opacity="0.6" stroke="#f4a68a" stroke-width="1.1"/>
<circle cx="190.77" cy="482.37" r="3.3" fill="#f4a68a" fill-opacity="0.6" stroke="#f4a68a" stroke-width="1.1"/>
<circle cx="222.42" cy="517.32" r="3.3" fill="#f4a68a" fill-opacity="0.6" stroke="#f4a68a" stroke-width="1.1"/>
<circle cx="237.11" cy="533.84" r="3.3" fill="#f4a68a" fill-opacity="0.6" stroke="#f4a68a" stroke-width="1.1"/>
<circle cx="250.26" cy="548.85" r="3.3" fill="#f4a68a" fill-opacity="0.6" stroke="#f4a68a" stroke-width="1.1"/>
<circle cx="259.49" cy="559.57" r="3.3" fill="#f4a68a" fill-opacity="0.6" stroke="#f4a68a" stroke-width="1.1"/>
<circle cx="266.74" cy="568.15" r="3.3" fill="#f4a68a" fill-opacity="0.6" stroke="#f4a68a" stroke-width="1.1"/>
<circle cx="272.94" cy="575.65" r="3.3" fill="#f4a68a" fill-opacity="0.6" stroke="#f4a68a" stroke-width="1.1"/>
<circle cx="280.4" cy="585.3" r="3.3" fill="#f4a68a" fill-opacity="0.6" stroke="#f4a68a" stroke-width="1.1"/>
<path d="M95.1,366.51 L103.06,371.98 L111.03,377.45 L118.99,382.92 L126.95,388.39 L134.91,393.86 L142.88,399.33 L150.84,404.8 L158.8,410.27 L166.76,415.74 L174.73,421.21 L182.69,426.68 L190.65,432.15 L198.61,437.62 L206.58,443.09 L214.54,448.56 L222.5,454.03 L230.46,459.5 L238.43,464.97 L246.39,470.44 L254.35,475.91 L262.31,481.38 L270.28,486.85 L278.24,492.31 L286.2,497.78 L294.16,503.25 L302.12,508.72 L310.09,514.19 L318.05,519.66 L326.01,525.13 L333.98,530.6 L341.94,536.07 L349.9,541.54 L357.86,547.01 L365.83,552.48 L373.79,557.95 L381.75,563.42 L389.71,568.89 L397.68,574.36 L405.64,579.83 L413.6,585.3" fill="none" stroke="#f4a68a" stroke-width="2.6" stroke-dasharray="6.3 2.7"/>
<circle cx="95.1" cy="368.3" r="3.3" fill="#f4a68a" fill-opacity="0.6" stroke="#f4a68a" stroke-width="1.1"/>
<circle cx="260.65" cy="477.23" r="3.3" fill="#f4a68a" fill-opacity="0.6" stroke="#f4a68a" stroke-width="1.1"/>
<circle cx="314.25" cy="513.93" r="3.3" fill="#f4a68a" fill-opacity="0.6" stroke="#f4a68a" stroke-width="1.1"/>
<circle cx="339.21" cy="531.26" r="3.3" fill="#f4a68a" fill-opacity="0.6" stroke="#f4a68a" stroke-width="1.1"/>
<circle cx="361.63" cy="547.02" r="3.3" fill="#f4a68a" fill-opacity="0.6" stroke="#f4a68a" stroke-width="1.1"/>
<circle cx="377.42" cy="558.28" r="3.3" fill="#f4a68a" fill-opacity="0.6" stroke="#f4a68a" stroke-width="1.1"/>
<circle cx="389.87" cy="567.29" r="3.3" fill="#f4a68a" fill-opacity="0.6" stroke="#f4a68a" stroke-width="1.1"/>
<circle cx="400.56" cy="575.17" r="3.3" fill="#f4a68a" fill-opacity="0.6" stroke="#f4a68a" stroke-width="1.1"/>
<circle cx="413.6" cy="585.3" r="3.3" fill="#f4a68a" fill-opacity="0.6" stroke="#f4a68a" stroke-width="1.1"/>
<path d="M104.3,362.16 L114.97,367.74 L125.63,373.31 L136.28,378.89 L146.93,384.47 L157.58,390.05 L168.21,395.63 L178.85,401.21 L189.47,406.79 L200.09,412.36 L210.7,417.94 L221.3,423.52 L231.9,429.1 L242.49,434.68 L253.07,440.26 L263.65,445.84 L274.21,451.41 L284.77,456.99 L295.32,462.57 L305.85,468.15 L316.38,473.73 L326.9,479.31 L337.4,484.89 L347.9,490.46 L358.38,496.04 L368.85,501.62 L379.3,507.2 L389.74,512.78 L400.17,518.36 L410.57,523.94 L420.96,529.51 L431.33,535.09 L441.67,540.67 L451.99,546.25 L462.28,551.83 L472.53,557.41 L482.74,562.99 L492.9,568.56 L503,574.14 L512.98,579.72 L522.7,585.3" fill="none" stroke="#f4a68a" stroke-width="2.6" stroke-dasharray="6.3 2.7"/>
<circle cx="104.3" cy="368.3" r="3.3" fill="#f4a68a" fill-opacity="0.6" stroke="#f4a68a" stroke-width="1.1"/>
<circle cx="308.41" cy="465.9" r="3.3" fill="#f4a68a" fill-opacity="0.6" stroke="#f4a68a" stroke-width="1.1"/>
<circle cx="385.23" cy="506.45" r="3.3" fill="#f4a68a" fill-opacity="0.6" stroke="#f4a68a" stroke-width="1.1"/>
<circle cx="420.63" cy="525.6" r="3.3" fill="#f4a68a" fill-opacity="0.6" stroke="#f4a68a" stroke-width="1.1"/>
<circle cx="452.13" cy="543.01" r="3.3" fill="#f4a68a" fill-opacity="0.6" stroke="#f4a68a" stroke-width="1.1"/>
<circle cx="474.08" cy="555.45" r="3.3" fill="#f4a68a" fill-opacity="0.6" stroke="#f4a68a" stroke-width="1.1"/>
<circle cx="491.2" cy="565.4" r="3.3" fill="#f4a68a" fill-opacity="0.6" stroke="#f4a68a" stroke-width="1.1"/>
<circle cx="505.68" cy="574.11" r="3.3" fill="#f4a68a" fill-opacity="0.6" stroke="#f4a68a" stroke-width="1.1"/>
<circle cx="522.7" cy="585.3" r="3.3" fill="#f4a68a" fill-opacity="0.6" stroke="#f4a68a" stroke-width="1.1"/>
<path d="M83.6,368.3 L88.57,373.74 L93.54,379.19 L98.5,384.63 L103.47,390.07 L108.43,395.51 L113.39,400.96 L118.35,406.4 L123.31,411.84 L128.27,417.28 L133.22,422.73 L138.18,428.17 L143.13,433.61 L148.08,439.05 L153.03,444.5 L157.98,449.94 L162.92,455.38 L167.86,460.82 L172.81,466.26 L177.74,471.71 L182.68,477.15 L187.61,482.59 L192.54,488.04 L197.47,493.48 L202.4,498.92 L207.32,504.36 L212.24,509.81 L217.15,515.25 L222.07,520.69 L226.97,526.13 L231.88,531.58 L236.78,537.02 L241.67,542.46 L246.56,547.9 L251.43,553.35 L256.31,558.79 L261.17,564.23 L266.02,569.67 L270.85,575.12 L275.66,580.56 L280.4,586" fill="none" stroke="#b9e0b0" stroke-width="2.6" stroke-dasharray="6.3 2.7"/>
<circle cx="83.6" cy="368.3" r="3.3" fill="#b9e0b0" fill-opacity="0.6" stroke="#b9e0b0" stroke-width="1.1"/>
<circle cx="199.83" cy="493" r="3.3" fill="#b9e0b0" fill-opacity="0.6" stroke="#b9e0b0" stroke-width="1.1"/>
<circle cx="228.28" cy="524.58" r="3.3" fill="#b9e0b0" fill-opacity="0.6" stroke="#b9e0b0" stroke-width="1.1"/>
<circle cx="241.49" cy="539.5" r="3.3" fill="#b9e0b0" fill-opacity="0.6" stroke="#b9e0b0" stroke-width="1.1"/>
<circle cx="253.31" cy="553.06" r="3.3" fill="#b9e0b0" fill-opacity="0.6" stroke="#b9e0b0" stroke-width="1.1"/>
<circle cx="261.61" cy="562.75" r="3.3" fill="#b9e0b0" fill-opacity="0.6" stroke="#b9e0b0" stroke-width="1.1"/>
<circle cx="268.12" cy="570.5" r="3.3" fill="#b9e0b0" fill-opacity="0.6" stroke="#b9e0b0" stroke-width="1.1"/>
<circle cx="273.69" cy="577.28" r="3.3" fill="#b9e0b0" fill-opacity="0.6" stroke="#b9e0b0" stroke-width="1.1"/>
<circle cx="280.4" cy="586" r="3.3" fill="#b9e0b0" fill-opacity="0.6" stroke="#b9e0b0" stroke-width="1.1"/>
<path d="M95.1,368.3 L103.06,373.74 L111.03,379.19 L118.99,384.63 L126.95,390.07 L134.91,395.51 L142.88,400.96 L150.84,406.4 L158.8,411.84 L166.76,417.28 L174.73,422.73 L182.69,428.17 L190.65,433.61 L198.61,439.05 L206.58,444.5 L214.54,449.94 L222.5,455.38 L230.46,460.82 L238.43,466.26 L246.39,471.71 L254.35,477.15 L262.31,482.59 L270.28,488.04 L278.24,493.48 L286.2,498.92 L294.16,504.36 L302.12,509.81 L310.09,515.25 L318.05,520.69 L326.01,526.13 L333.98,531.58 L341.94,537.02 L349.9,542.46 L357.86,547.9 L365.83,553.35 L373.79,558.79 L381.75,564.23 L389.71,569.67 L397.68,575.12 L405.64,580.56 L413.6,586" fill="none" stroke="#b9e0b0" stroke-width="2.6" stroke-dasharray="6.3 2.7"/>
<circle cx="95.1" cy="368.3" r="3.3" fill="#b9e0b0" fill-opacity="0.6" stroke="#b9e0b0" stroke-width="1.1"/>
<circle cx="275.24" cy="488.35" r="3.3" fill="#b9e0b0" fill-opacity="0.6" stroke="#b9e0b0" stroke-width="1.1"/>
<circle cx="323.73" cy="521.51" r="3.3" fill="#b9e0b0" fill-opacity="0.6" stroke="#b9e0b0" stroke-width="1.1"/>
<circle cx="346.31" cy="537.17" r="3.3" fill="#b9e0b0" fill-opacity="0.6" stroke="#b9e0b0" stroke-width="1.1"/>
<circle cx="366.59" cy="551.42" r="3.3" fill="#b9e0b0" fill-opacity="0.6" stroke="#b9e0b0" stroke-width="1.1"/>
<circle cx="380.88" cy="561.59" r="3.3" fill="#b9e0b0" fill-opacity="0.6" stroke="#b9e0b0" stroke-width="1.1"/>
<circle cx="392.14" cy="569.72" r="3.3" fill="#b9e0b0" fill-opacity="0.6" stroke="#b9e0b0" stroke-width="1.1"/>
<circle cx="401.8" cy="576.85" r="3.3" fill="#b9e0b0" fill-opacity="0.6" stroke="#b9e0b0" stroke-width="1.1"/>
<circle cx="413.6" cy="586" r="3.3" fill="#b9e0b0" fill-opacity="0.6" stroke="#b9e0b0" stroke-width="1.1"/>
<path d="M104.3,365.03 L114.97,370.56 L125.63,376.08 L136.28,381.61 L146.93,387.13 L157.58,392.66 L168.21,398.18 L178.85,403.7 L189.47,409.23 L200.09,414.75 L210.7,420.28 L221.3,425.8 L231.9,431.32 L242.49,436.85 L253.07,442.37 L263.65,447.9 L274.21,453.42 L284.77,458.94 L295.32,464.47 L305.85,469.99 L316.38,475.52 L326.9,481.04 L337.4,486.57 L347.9,492.09 L358.38,497.61 L368.85,503.14 L379.3,508.66 L389.74,514.19 L400.17,519.71 L410.57,525.23 L420.96,530.76 L431.33,536.28 L441.67,541.81 L451.99,547.33 L462.28,552.86 L472.53,558.38 L482.74,563.9 L492.9,569.43 L503,574.95 L512.98,580.48 L522.7,586" fill="none" stroke="#b9e0b0" stroke-width="2.6" stroke-dasharray="6.3 2.7"/>
<circle cx="104.3" cy="368.3" r="3.3" fill="#b9e0b0" fill-opacity="0.6" stroke="#b9e0b0" stroke-width="1.1"/>
<circle cx="328.42" cy="478.12" r="3.3" fill="#b9e0b0" fill-opacity="0.6" stroke="#b9e0b0" stroke-width="1.1"/>
<circle cx="398.07" cy="514.75" r="3.3" fill="#b9e0b0" fill-opacity="0.6" stroke="#b9e0b0" stroke-width="1.1"/>
<circle cx="430.16" cy="532.06" r="3.3" fill="#b9e0b0" fill-opacity="0.6" stroke="#b9e0b0" stroke-width="1.1"/>
<circle cx="458.72" cy="547.79" r="3.3" fill="#b9e0b0" fill-opacity="0.6" stroke="#b9e0b0" stroke-width="1.1"/>
<circle cx="478.62" cy="559.03" r="3.3" fill="#b9e0b0" fill-opacity="0.6" stroke="#b9e0b0" stroke-width="1.1"/>
<circle cx="494.14" cy="568.02" r="3.3" fill="#b9e0b0" fill-opacity="0.6" stroke="#b9e0b0" stroke-width="1.1"/>
<circle cx="507.27" cy="575.89" r="3.3" fill="#b9e0b0" fill-opacity="0.6" stroke="#b9e0b0" stroke-width="1.1"/>
<circle cx="522.7" cy="586" r="3.3" fill="#b9e0b0" fill-opacity="0.6" stroke="#b9e0b0" stroke-width="1.1"/>
<path d="M83.6,368.5 L88.57,373.94 L93.54,379.39 L98.5,384.83 L103.47,390.27 L108.43,395.71 L113.39,401.16 L118.35,406.6 L123.31,412.04 L128.27,417.48 L133.22,422.93 L138.18,428.37 L143.13,433.81 L148.08,439.25 L153.03,444.69 L157.98,450.14 L162.92,455.58 L167.86,461.02 L172.81,466.46 L177.74,471.91 L182.68,477.35 L187.61,482.79 L192.54,488.24 L197.47,493.68 L202.4,499.12 L207.32,504.56 L212.24,510 L217.15,515.45 L222.07,520.89 L226.97,526.33 L231.88,531.78 L236.78,537.22 L241.67,542.66 L246.56,548.1 L251.43,553.55 L256.31,558.99 L261.17,564.43 L266.02,569.87 L270.85,575.32 L275.66,580.76 L280.4,586.2" fill="none" stroke="#a8d873" stroke-width="2.6" stroke-dasharray="6.3 2.7"/>
<circle cx="83.6" cy="368.3" r="3.3" fill="#a8d873" fill-opacity="0.6" stroke="#a8d873" stroke-width="1.1"/>
<circle cx="200.78" cy="494.24" r="3.3" fill="#a8d873" fill-opacity="0.6" stroke="#a8d873" stroke-width="1.1"/>
<circle cx="228.9" cy="525.47" r="3.3" fill="#a8d873" fill-opacity="0.6" stroke="#a8d873" stroke-width="1.1"/>
<circle cx="241.94" cy="540.22" r="3.3" fill="#a8d873" fill-opacity="0.6" stroke="#a8d873" stroke-width="1.1"/>
<circle cx="253.63" cy="553.63" r="3.3" fill="#a8d873" fill-opacity="0.6" stroke="#a8d873" stroke-width="1.1"/>
<circle cx="261.83" cy="563.21" r="3.3" fill="#a8d873" fill-opacity="0.6" stroke="#a8d873" stroke-width="1.1"/>
<circle cx="268.27" cy="570.87" r="3.3" fill="#a8d873" fill-opacity="0.6" stroke="#a8d873" stroke-width="1.1"/>
<circle cx="273.77" cy="577.58" r="3.3" fill="#a8d873" fill-opacity="0.6" stroke="#a8d873" stroke-width="1.1"/>
<circle cx="280.4" cy="586.2" r="3.3" fill="#a8d873" fill-opacity="0.6" stroke="#a8d873" stroke-width="1.1"/>
<path d="M95.1,368.5 L103.06,373.94 L111.03,379.39 L118.99,384.83 L126.95,390.27 L134.91,395.71 L142.88,401.16 L150.84,406.6 L158.8,412.04 L166.76,417.48 L174.73,422.93 L182.69,428.37 L190.65,433.81 L198.61,439.25 L206.58,444.69 L214.54,450.14 L222.5,455.58 L230.46,461.02 L238.43,466.46 L246.39,471.91 L254.35,477.35 L262.31,482.79 L270.28,488.24 L278.24,493.68 L286.2,499.12 L294.16,504.56 L302.12,510 L310.09,515.45 L318.05,520.89 L326.01,526.33 L333.98,531.78 L341.94,537.22 L349.9,542.66 L357.86,548.1 L365.83,553.55 L373.79,558.99 L381.75,564.43 L389.71,569.87 L397.68,575.32 L405.64,580.76 L413.6,586.2" fill="none" stroke="#a8d873" stroke-width="2.6" stroke-dasharray="6.3 2.7"/>
<circle cx="95.1" cy="368.3" r="3.3" fill="#a8d873" fill-opacity="0.6" stroke="#a8d873" stroke-width="1.1"/>
<circle cx="276.86" cy="489.65" r="3.3" fill="#a8d873" fill-opacity="0.6" stroke="#a8d873" stroke-width="1.1"/>
<circle cx="324.78" cy="522.43" r="3.3" fill="#a8d873" fill-opacity="0.6" stroke="#a8d873" stroke-width="1.1"/>
<circle cx="347.1" cy="537.92" r="3.3" fill="#a8d873" fill-opacity="0.6" stroke="#a8d873" stroke-width="1.1"/>
<circle cx="367.14" cy="552" r="3.3" fill="#a8d873" fill-opacity="0.6" stroke="#a8d873" stroke-width="1.1"/>
<circle cx="381.26" cy="562.06" r="3.3" fill="#a8d873" fill-opacity="0.6" stroke="#a8d873" stroke-width="1.1"/>
<circle cx="392.39" cy="570.11" r="3.3" fill="#a8d873" fill-opacity="0.6" stroke="#a8d873" stroke-width="1.1"/>
<circle cx="401.94" cy="577.15" r="3.3" fill="#a8d873" fill-opacity="0.6" stroke="#a8d873" stroke-width="1.1"/>
<circle cx="413.6" cy="586.2" r="3.3" fill="#a8d873" fill-opacity="0.6" stroke="#a8d873" stroke-width="1.1"/>
<path d="M104.3,365.67 L114.97,371.18 L125.63,376.7 L136.28,382.21 L146.93,387.72 L157.58,393.24 L168.21,398.75 L178.85,404.26 L189.47,409.78 L200.09,415.29 L210.7,420.8 L221.3,426.32 L231.9,431.83 L242.49,437.34 L253.07,442.86 L263.65,448.37 L274.21,453.88 L284.77,459.4 L295.32,464.91 L305.85,470.42 L316.38,475.93 L326.9,481.45 L337.4,486.96 L347.9,492.47 L358.38,497.99 L368.85,503.5 L379.3,509.01 L389.74,514.53 L400.17,520.04 L410.57,525.55 L420.96,531.07 L431.33,536.58 L441.67,542.09 L451.99,547.61 L462.28,553.12 L472.53,558.63 L482.74,564.15 L492.9,569.66 L503,575.17 L512.98,580.69 L522.7,586.2" fill="none" stroke="#a8d873" stroke-width="2.6" stroke-dasharray="6.3 2.7"/>
<circle cx="104.3" cy="368.3" r="3.3" fill="#a8d873" fill-opacity="0.6" stroke="#a8d873" stroke-width="1.1"/>
<circle cx="330.35" cy="479.53" r="3.3" fill="#a8d873" fill-opacity="0.6" stroke="#a8d873" stroke-width="1.1"/>
<circle cx="399.31" cy="515.75" r="3.3" fill="#a8d873" fill-opacity="0.6" stroke="#a8d873" stroke-width="1.1"/>
<circle cx="431.08" cy="532.87" r="3.3" fill="#a8d873" fill-opacity="0.6" stroke="#a8d873" stroke-width="1.1"/>
<circle cx="459.35" cy="548.42" r="3.3" fill="#a8d873" fill-opacity="0.6" stroke="#a8d873" stroke-width="1.1"/>
<circle cx="479.06" cy="559.53" r="3.3" fill="#a8d873" fill-opacity="0.6" stroke="#a8d873" stroke-width="1.1"/>
<circle cx="494.42" cy="568.42" r="3.3" fill="#a8d873" fill-opacity="0.6" stroke="#a8d873" stroke-width="1.1"/>
<circle cx="507.42" cy="576.2" r="3.3" fill="#a8d873" fill-opacity="0.6" stroke="#a8d873" stroke-width="1.1"/>
<circle cx="522.7" cy="586.2" r="3.3" fill="#a8d873" fill-opacity="0.6" stroke="#a8d873" stroke-width="1.1"/>
<path d="M83.6,368.7 L88.57,374.14 L93.54,379.59 L98.5,385.03 L103.47,390.47 L108.43,395.91 L113.39,401.36 L118.35,406.8 L123.31,412.24 L128.27,417.68 L133.22,423.12 L138.18,428.57 L143.13,434.01 L148.08,439.45 L153.03,444.89 L157.98,450.34 L162.92,455.78 L167.86,461.22 L172.81,466.66 L177.74,472.11 L182.68,477.55 L187.61,482.99 L192.54,488.44 L197.47,493.88 L202.4,499.32 L207.32,504.76 L212.24,510.2 L217.15,515.65 L222.07,521.09 L226.97,526.53 L231.88,531.98 L236.78,537.42 L241.67,542.86 L246.56,548.3 L251.43,553.75 L256.31,559.19 L261.17,564.63 L266.02,570.07 L270.85,575.51 L275.66,580.96 L280.4,586.4" fill="none" stroke="#6cb844" stroke-width="2.6" stroke-dasharray="6.3 2.7"/>
<circle cx="83.6" cy="368.3" r="3.3" fill="#6cb844" fill-opacity="0.6" stroke="#6cb844" stroke-width="1.1"/>
<circle cx="201.25" cy="494.97" r="3.3" fill="#6cb844" fill-opacity="0.6" stroke="#6cb844" stroke-width="1.1"/>
<circle cx="229.2" cy="526.02" r="3.3" fill="#6cb844" fill-opacity="0.6" stroke="#6cb844" stroke-width="1.1"/>
<circle cx="242.17" cy="540.68" r="3.3" fill="#6cb844" fill-opacity="0.6" stroke="#6cb844" stroke-width="1.1"/>
<circle cx="253.79" cy="554.02" r="3.3" fill="#6cb844" fill-opacity="0.6" stroke="#6cb844" stroke-width="1.1"/>
<circle cx="261.94" cy="563.54" r="3.3" fill="#6cb844" fill-opacity="0.6" stroke="#6cb844" stroke-width="1.1"/>
<circle cx="268.34" cy="571.16" r="3.3" fill="#6cb844" fill-opacity="0.6" stroke="#6cb844" stroke-width="1.1"/>
<circle cx="273.81" cy="577.83" r="3.3" fill="#6cb844" fill-opacity="0.6" stroke="#6cb844" stroke-width="1.1"/>
<circle cx="280.4" cy="586.4" r="3.3" fill="#6cb844" fill-opacity="0.6" stroke="#6cb844" stroke-width="1.1"/>
<path d="M95.1,368.7 L103.06,374.14 L111.03,379.59 L118.99,385.03 L126.95,390.47 L134.91,395.91 L142.88,401.36 L150.84,406.8 L158.8,412.24 L166.76,417.68 L174.73,423.12 L182.69,428.57 L190.65,434.01 L198.61,439.45 L206.58,444.89 L214.54,450.34 L222.5,455.78 L230.46,461.22 L238.43,466.66 L246.39,472.11 L254.35,477.55 L262.31,482.99 L270.28,488.44 L278.24,493.88 L286.2,499.32 L294.16,504.76 L302.12,510.2 L310.09,515.65 L318.05,521.09 L326.01,526.53 L333.98,531.98 L341.94,537.42 L349.9,542.86 L357.86,548.3 L365.83,553.75 L373.79,559.19 L381.75,564.63 L389.71,570.07 L397.68,575.51 L405.64,580.96 L413.6,586.4" fill="none" stroke="#6cb844" stroke-width="2.6" stroke-dasharray="6.3 2.7"/>
<circle cx="95.1" cy="368.3" r="3.3" fill="#6cb844" fill-opacity="0.6" stroke="#6cb844" stroke-width="1.1"/>
<circle cx="277.67" cy="490.39" r="3.3" fill="#6cb844" fill-opacity="0.6" stroke="#6cb844" stroke-width="1.1"/>
<circle cx="325.3" cy="523" r="3.3" fill="#6cb844" fill-opacity="0.6" stroke="#6cb844" stroke-width="1.1"/>
<circle cx="347.49" cy="538.4" r="3.3" fill="#6cb844" fill-opacity="0.6" stroke="#6cb844" stroke-width="1.1"/>
<circle cx="367.41" cy="552.4" r="3.3" fill="#6cb844" fill-opacity="0.6" stroke="#6cb844" stroke-width="1.1"/>
<circle cx="381.45" cy="562.4" r="3.3" fill="#6cb844" fill-opacity="0.6" stroke="#6cb844" stroke-width="1.1"/>
<circle cx="392.51" cy="570.4" r="3.3" fill="#6cb844" fill-opacity="0.6" stroke="#6cb844" stroke-width="1.1"/>
<circle cx="402.01" cy="577.4" r="3.3" fill="#6cb844" fill-opacity="0.6" stroke="#6cb844" stroke-width="1.1"/>
<circle cx="413.6" cy="586.4" r="3.3" fill="#6cb844" fill-opacity="0.6" stroke="#6cb844" stroke-width="1.1"/>
<path d="M104.3,366.09 L114.97,371.6 L125.63,377.1 L136.28,382.61 L146.93,388.12 L157.58,393.63 L168.21,399.13 L178.85,404.64 L189.47,410.15 L200.09,415.66 L210.7,421.17 L221.3,426.67 L231.9,432.18 L242.49,437.69 L253.07,443.2 L263.65,448.7 L274.21,454.21 L284.77,459.72 L295.32,465.23 L305.85,470.74 L316.38,476.24 L326.9,481.75 L337.4,487.26 L347.9,492.77 L358.38,498.28 L368.85,503.78 L379.3,509.29 L389.74,514.8 L400.17,520.31 L410.57,525.81 L420.96,531.32 L431.33,536.83 L441.67,542.34 L451.99,547.85 L462.28,553.35 L472.53,558.86 L482.74,564.37 L492.9,569.88 L503,575.38 L512.98,580.89 L522.7,586.4" fill="none" stroke="#6cb844" stroke-width="2.6" stroke-dasharray="6.3 2.7"/>
<circle cx="104.3" cy="368.3" r="3.3" fill="#6cb844" fill-opacity="0.6" stroke="#6cb844" stroke-width="1.1"/>
<circle cx="331.32" cy="480.34" r="3.3" fill="#6cb844" fill-opacity="0.6" stroke="#6cb844" stroke-width="1.1"/>
<circle cx="399.93" cy="516.35" r="3.3" fill="#6cb844" fill-opacity="0.6" stroke="#6cb844" stroke-width="1.1"/>
<circle cx="431.54" cy="533.37" r="3.3" fill="#6cb844" fill-opacity="0.6" stroke="#6cb844" stroke-width="1.1"/>
<circle cx="459.67" cy="548.84" r="3.3" fill="#6cb844" fill-opacity="0.6" stroke="#6cb844" stroke-width="1.1"/>
<circle cx="479.28" cy="559.88" r="3.3" fill="#6cb844" fill-opacity="0.6" stroke="#6cb844" stroke-width="1.1"/>
<circle cx="494.56" cy="568.72" r="3.3" fill="#6cb844" fill-opacity="0.6" stroke="#6cb844" stroke-width="1.1"/>
<circle cx="507.5" cy="576.46" r="3.3" fill="#6cb844" fill-opacity="0.6" stroke="#6cb844" stroke-width="1.1"/>
<circle cx="522.7" cy="586.4" r="3.3" fill="#6cb844" fill-opacity="0.6" stroke="#6cb844" stroke-width="1.1"/>
</g>
<g stroke="#aaaaaa" stroke-width="1.5">
<line x1="151.03" y1="349" x2="151.03" y2="597"/>
<line x1="249.46" y1="349" x2="249.46" y2="597"/>
<line x1="347.89" y1="349" x2="347.89" y2="597"/>
<line x1="446.32" y1="349" x2="446.32" y2="597"/>
<line x1="62.2" y1="586" x2="542" y2="586"/>
<line x1="62.2" y1="542.46" x2="542" y2="542.46"/>
<line x1="62.2" y1="498.92" x2="542" y2="498.92"/>
<line x1="62.2" y1="455.38" x2="542" y2="455.38"/>
<line x1="62.2" y1="411.84" x2="542" y2="411.84"/>
<line x1="62.2" y1="368.3" x2="542" y2="368.3"/>
</g>
<rect x="62.2" y="349" width="479.8" height="248" fill="none" stroke="#000" stroke-width="1.8"/>
<g stroke="#000" stroke-width="1.7">
<line x1="55.9" y1="586" x2="62.2" y2="586"/>
<line x1="55.9" y1="542.46" x2="62.2" y2="542.46"/>
<line x1="55.9" y1="498.92" x2="62.2" y2="498.92"/>
<line x1="55.9" y1="455.38" x2="62.2" y2="455.38"/>
<line x1="55.9" y1="411.84" x2="62.2" y2="411.84"/>
<line x1="55.9" y1="368.3" x2="62.2" y2="368.3"/>
<line x1="151.03" y1="597" x2="151.03" y2="603.3"/>
<line x1="249.46" y1="597" x2="249.46" y2="603.3"/>
<line x1="347.89" y1="597" x2="347.89" y2="603.3"/>
<line x1="446.32" y1="597" x2="446.32" y2="603.3"/>
</g>
<text x="29.78" y="591.56" font-size="14.5" fill="#000" textLength="19.75" lengthAdjust="spacingAndGlyphs">0.0</text>
<text x="29.96" y="548.02" font-size="14.5" fill="#000" textLength="19.75" lengthAdjust="spacingAndGlyphs">0.2</text>
<text x="29.64" y="504.48" font-size="14.5" fill="#000" textLength="19.75" lengthAdjust="spacingAndGlyphs">0.4</text>
<text x="29.85" y="460.94" font-size="14.5" fill="#000" textLength="19.75" lengthAdjust="spacingAndGlyphs">0.6</text>
<text x="29.85" y="417.4" font-size="14.5" fill="#000" textLength="19.75" lengthAdjust="spacingAndGlyphs">0.8</text>
<text x="29.78" y="373.86" font-size="14.5" fill="#000" textLength="19.75" lengthAdjust="spacingAndGlyphs">1.0</text>
<text x="140.15" y="618.6" font-size="14.5" fill="#000" textLength="22.21" lengthAdjust="spacingAndGlyphs">100</text>
<text x="238.16" y="618.6" font-size="14.5" fill="#000" textLength="23.02" lengthAdjust="spacingAndGlyphs">200</text>
<text x="336.34" y="618.6" font-size="14.5" fill="#000" textLength="22.84" lengthAdjust="spacingAndGlyphs">300</text>
<text x="435.04" y="618.6" font-size="14.5" fill="#000" textLength="23.15" lengthAdjust="spacingAndGlyphs">400</text>
<text x="225.44" y="576.6" font-size="14.5" fill="#000" textLength="21.57" lengthAdjust="spacingAndGlyphs">60°</text>
<text x="349.02" y="576.6" font-size="14.5" fill="#000" textLength="22" lengthAdjust="spacingAndGlyphs">45°</text>
<text x="454.33" y="576.6" font-size="14.5" fill="#000" textLength="21.16" lengthAdjust="spacingAndGlyphs">30°</text>
<text transform="translate(18.2,496.33) rotate(-90)" x="0" y="0" font-size="14.3" fill="#000" textLength="29.65" lengthAdjust="spacingAndGlyphs">CMF</text>
<text transform="translate(21.2,465.48) rotate(-90)" x="0" y="0" font-size="8.6" fill="#000" textLength="14.56" lengthAdjust="spacingAndGlyphs">300</text>
<text x="168.04" y="639.7" font-size="13.9" fill="#000" textLength="224.77" lengthAdjust="spacingAndGlyphs">Radiance at  635 nm (TOA) [mW/(m</text>
<text x="393.21" y="634.1" font-size="8.34" fill="#000">2</text>
<text x="397.66" y="639.7" font-size="13.9" fill="#000" textLength="47.65" lengthAdjust="spacingAndGlyphs" xml:space="preserve"> nm sr)]</text>
<text x="5" y="362" font-size="18" font-weight="bold" fill="#000" textLength="21.69" lengthAdjust="spacingAndGlyphs">(b)</text>
<rect x="291.2" y="349.6" width="250.6" height="82.2" fill="#fff" stroke="#9a9a9a" stroke-width="1.1"/>
<circle cx="297.8" cy="357.6" r="4" fill="#ee6145"/>
<circle cx="297.8" cy="373.6" r="4" fill="#f4a68a"/>
<circle cx="297.8" cy="389.2" r="4" fill="#b9e0b0"/>
<circle cx="297.8" cy="405.2" r="4" fill="#a8d873"/>
<circle cx="297.8" cy="421.1" r="4" fill="#6cb844"/>
<text x="306.82" y="361.7" font-size="11.5" fill="#000" textLength="169.21" lengthAdjust="spacingAndGlyphs">alt.: 1 km, thickness 1 km (# 1)</text>
<text x="306.82" y="377.1" font-size="11.5" fill="#000" textLength="169.21" lengthAdjust="spacingAndGlyphs">alt.: 1 km, thickness 2 km (# 2)</text>
<text x="306.82" y="392.6" font-size="11.5" fill="#000" textLength="169.21" lengthAdjust="spacingAndGlyphs">alt.: 2 km, thickness 2 km (# 3)</text>
<text x="306.47" y="408.7" font-size="11.5" fill="#000" textLength="151.8" lengthAdjust="spacingAndGlyphs">alt.: 1 km, thickness 2 km, r</text>
<text x="458.27" y="411.5" font-size="7.6" fill="#000" textLength="9.06" lengthAdjust="spacingAndGlyphs">eff</text>
<text x="467.33" y="408.7" font-size="11.5" fill="#000" textLength="70.37" lengthAdjust="spacingAndGlyphs"> = 5 µm (# 4)</text>
<text x="306.47" y="425.9" font-size="11.5" fill="#000" textLength="151.8" lengthAdjust="spacingAndGlyphs">alt.: 1 km, thickness 2 km, r</text>
<text x="458.27" y="428.7" font-size="7.6" fill="#000" textLength="9.06" lengthAdjust="spacingAndGlyphs">eff</text>
<text x="467.33" y="425.9" font-size="11.5" fill="#000" textLength="73.67" lengthAdjust="spacingAndGlyphs"> =15 µm (# 5)</text>
<g>
<path d="M84.5,689.7 L89.13,695.27 L93.77,700.84 L98.41,706.41 L103.06,711.98 L107.73,717.55 L112.4,723.12 L117.08,728.69 L121.78,734.26 L126.48,739.83 L131.19,745.4 L135.91,750.97 L140.65,756.54 L145.4,762.11 L150.16,767.68 L154.93,773.25 L159.72,778.82 L164.52,784.39 L169.33,789.96 L174.16,795.53 L179.01,801.1 L183.87,806.67 L188.75,812.24 L193.65,817.81 L198.57,823.38 L203.51,828.95 L208.48,834.52 L213.47,840.09 L218.48,845.66 L223.53,851.23 L228.61,856.8 L233.72,862.37 L238.88,867.94 L244.08,873.51 L249.33,879.08 L254.64,884.65 L260.03,890.22 L265.52,895.79 L271.13,901.36 L276.96,906.93 L283.4,912.5" fill="none" stroke="#6aaed6" stroke-width="2.1" stroke-dasharray="6.3 2.7"/>
<circle cx="84.5" cy="689.7" r="3.6" fill="#6aaed6"/>
<circle cx="176.24" cy="803.42" r="3.6" fill="#6aaed6"/>
<circle cx="214.15" cy="842.05" r="3.6" fill="#6aaed6"/>
<circle cx="232.49" cy="860.23" r="3.6" fill="#6aaed6"/>
<circle cx="246.81" cy="875" r="3.6" fill="#6aaed6"/>
<circle cx="252.09" cy="880.68" r="3.6" fill="#6aaed6"/>
<circle cx="260.66" cy="889.77" r="3.6" fill="#6aaed6"/>
<circle cx="267.2" cy="896.59" r="3.6" fill="#6aaed6"/>
<circle cx="273.88" cy="903.41" r="3.6" fill="#6aaed6"/>
<circle cx="283.4" cy="912.5" r="3.6" fill="#6aaed6"/>
<path d="M96.2,689.7 L103.04,695.27 L109.91,700.84 L116.81,706.41 L123.73,711.98 L130.68,717.55 L137.65,723.12 L144.66,728.69 L151.69,734.26 L158.76,739.83 L165.85,745.4 L172.98,750.97 L180.15,756.54 L187.35,762.11 L194.59,767.68 L201.87,773.25 L209.18,778.82 L216.54,784.39 L223.95,789.96 L231.4,795.53 L238.91,801.1 L246.46,806.67 L254.07,812.24 L261.75,817.81 L269.48,823.38 L277.28,828.95 L285.16,834.52 L293.11,840.09 L301.16,845.66 L309.29,851.23 L317.53,856.8 L325.89,862.37 L334.38,867.94 L343.01,873.51 L351.83,879.08 L360.85,884.65 L370.13,890.22 L379.75,895.79 L389.83,901.36 L400.68,906.93 L414,912.5" fill="none" stroke="#6aaed6" stroke-width="2.1" stroke-dasharray="6.3 2.7"/>
<circle cx="96.2" cy="689.7" r="3.6" fill="#6aaed6"/>
<circle cx="236.56" cy="803.42" r="3.6" fill="#6aaed6"/>
<circle cx="296.79" cy="842.05" r="3.6" fill="#6aaed6"/>
<circle cx="326.55" cy="860.23" r="3.6" fill="#6aaed6"/>
<circle cx="350.08" cy="875" r="3.6" fill="#6aaed6"/>
<circle cx="358.87" cy="880.68" r="3.6" fill="#6aaed6"/>
<circle cx="373.27" cy="889.77" r="3.6" fill="#6aaed6"/>
<circle cx="384.46" cy="896.59" r="3.6" fill="#6aaed6"/>
<circle cx="396.15" cy="903.41" r="3.6" fill="#6aaed6"/>
<circle cx="414" cy="912.5" r="3.6" fill="#6aaed6"/>
<path d="M104.9,689.7 L113.87,695.27 L122.88,700.84 L131.92,706.41 L141,711.98 L150.11,717.55 L159.25,723.12 L168.44,728.69 L177.66,734.26 L186.93,739.83 L196.23,745.4 L205.58,750.97 L214.97,756.54 L224.42,762.11 L233.91,767.68 L243.45,773.25 L253.04,778.82 L262.7,784.39 L272.41,789.96 L282.18,795.53 L292.02,801.1 L301.93,806.67 L311.91,812.24 L321.96,817.81 L332.11,823.38 L342.34,828.95 L352.66,834.52 L363.09,840.09 L373.64,845.66 L384.31,851.23 L395.11,856.8 L406.07,862.37 L417.2,867.94 L428.52,873.51 L440.08,879.08 L451.91,884.65 L464.08,890.22 L476.69,895.79 L489.91,901.36 L504.14,906.93 L521.6,912.5" fill="none" stroke="#6aaed6" stroke-width="2.1" stroke-dasharray="6.3 2.7"/>
<circle cx="104.9" cy="689.7" r="3.6" fill="#6aaed6"/>
<circle cx="282.19" cy="803.42" r="3.6" fill="#6aaed6"/>
<circle cx="360.67" cy="842.05" r="3.6" fill="#6aaed6"/>
<circle cx="400.09" cy="860.23" r="3.6" fill="#6aaed6"/>
<circle cx="431.6" cy="875" r="3.6" fill="#6aaed6"/>
<circle cx="443.46" cy="880.68" r="3.6" fill="#6aaed6"/>
<circle cx="463.09" cy="889.77" r="3.6" fill="#6aaed6"/>
<circle cx="478.55" cy="896.59" r="3.6" fill="#6aaed6"/>
<circle cx="494.99" cy="903.41" r="3.6" fill="#6aaed6"/>
<circle cx="521.6" cy="912.5" r="3.6" fill="#6aaed6"/>
<path d="M84.5,689.7 L89.03,695.27 L93.57,700.84 L98.12,706.41 L102.68,711.98 L107.26,717.55 L111.84,723.12 L116.44,728.69 L121.05,734.26 L125.68,739.83 L130.31,745.4 L134.96,750.97 L139.63,756.54 L144.31,762.11 L149,767.68 L153.72,773.25 L158.45,778.82 L163.19,784.39 L167.96,789.96 L172.74,795.53 L177.55,801.1 L182.38,806.67 L187.23,812.24 L192.1,817.81 L197,823.38 L201.93,828.95 L206.89,834.52 L211.88,840.09 L216.9,845.66 L221.96,851.23 L227.07,856.8 L232.22,862.37 L237.42,867.94 L242.68,873.51 L248.01,879.08 L253.42,884.65 L258.93,890.22 L264.57,895.79 L270.38,901.36 L276.47,906.93 L283.4,912.5" fill="none" stroke="#4182c4" stroke-width="2.1" stroke-dasharray="6.3 2.7"/>
<circle cx="84.5" cy="689.7" r="3.6" fill="#4182c4"/>
<circle cx="181.35" cy="808.76" r="3.6" fill="#4182c4"/>
<circle cx="217.62" cy="845.5" r="3.6" fill="#4182c4"/>
<circle cx="235.09" cy="862.79" r="3.6" fill="#4182c4"/>
<circle cx="248.51" cy="876.84" r="3.6" fill="#4182c4"/>
<circle cx="253.55" cy="882.24" r="3.6" fill="#4182c4"/>
<circle cx="261.72" cy="890.89" r="3.6" fill="#4182c4"/>
<circle cx="267.95" cy="897.37" r="3.6" fill="#4182c4"/>
<circle cx="274.32" cy="903.86" r="3.6" fill="#4182c4"/>
<circle cx="283.4" cy="912.5" r="3.6" fill="#4182c4"/>
<path d="M96.2,689.7 L102.57,695.27 L108.98,700.84 L115.42,706.41 L121.89,711.98 L128.4,717.55 L134.95,723.12 L141.53,728.69 L148.16,734.26 L154.82,739.83 L161.53,745.4 L168.29,750.97 L175.09,756.54 L181.94,762.11 L188.84,767.68 L195.8,773.25 L202.81,778.82 L209.88,784.39 L217.01,789.96 L224.21,795.53 L231.47,801.1 L238.81,806.67 L246.23,812.24 L253.73,817.81 L261.31,823.38 L269,828.95 L276.78,834.52 L284.68,840.09 L292.7,845.66 L300.86,851.23 L309.17,856.8 L317.64,862.37 L326.3,867.94 L335.19,873.51 L344.33,879.08 L353.79,884.65 L363.63,890.22 L373.99,895.79 L385.07,901.36 L397.38,906.93 L414,912.5" fill="none" stroke="#4182c4" stroke-width="2.1" stroke-dasharray="6.3 2.7"/>
<circle cx="96.2" cy="689.7" r="3.6" fill="#4182c4"/>
<circle cx="244.59" cy="808.76" r="3.6" fill="#4182c4"/>
<circle cx="302.39" cy="845.5" r="3.6" fill="#4182c4"/>
<circle cx="330.79" cy="862.79" r="3.6" fill="#4182c4"/>
<circle cx="352.91" cy="876.84" r="3.6" fill="#4182c4"/>
<circle cx="361.31" cy="882.24" r="3.6" fill="#4182c4"/>
<circle cx="375.07" cy="890.89" r="3.6" fill="#4182c4"/>
<circle cx="385.76" cy="897.37" r="3.6" fill="#4182c4"/>
<circle cx="396.94" cy="903.86" r="3.6" fill="#4182c4"/>
<circle cx="414" cy="912.5" r="3.6" fill="#4182c4"/>
<path d="M104.9,689.7 L113.15,695.27 L121.45,700.84 L129.79,706.41 L138.18,711.98 L146.62,717.55 L155.11,723.12 L163.65,728.69 L172.25,734.26 L180.9,739.83 L189.61,745.4 L198.39,750.97 L207.22,756.54 L216.13,762.11 L225.1,767.68 L234.15,773.25 L243.27,778.82 L252.47,784.39 L261.76,789.96 L271.13,795.53 L280.6,801.1 L290.17,806.67 L299.85,812.24 L309.64,817.81 L319.55,823.38 L329.6,828.95 L339.78,834.52 L350.12,840.09 L360.63,845.66 L371.32,851.23 L382.22,856.8 L393.35,862.37 L404.75,867.94 L416.45,873.51 L428.5,879.08 L440.99,884.65 L454.02,890.22 L467.76,895.79 L482.52,901.36 L499,906.93 L521.6,912.5" fill="none" stroke="#4182c4" stroke-width="2.1" stroke-dasharray="6.3 2.7"/>
<circle cx="104.9" cy="689.7" r="3.6" fill="#4182c4"/>
<circle cx="292.57" cy="808.76" r="3.6" fill="#4182c4"/>
<circle cx="368.05" cy="845.5" r="3.6" fill="#4182c4"/>
<circle cx="405.75" cy="862.79" r="3.6" fill="#4182c4"/>
<circle cx="435.4" cy="876.84" r="3.6" fill="#4182c4"/>
<circle cx="446.76" cy="882.24" r="3.6" fill="#4182c4"/>
<circle cx="465.57" cy="890.89" r="3.6" fill="#4182c4"/>
<circle cx="480.37" cy="897.37" r="3.6" fill="#4182c4"/>
<circle cx="496.12" cy="903.86" r="3.6" fill="#4182c4"/>
<circle cx="521.6" cy="912.5" r="3.6" fill="#4182c4"/>
<path d="M84.5,689.7 L89.08,695.27 L93.67,700.84 L98.27,706.41 L102.87,711.98 L107.49,717.55 L112.12,723.12 L116.76,728.69 L121.41,734.26 L126.08,739.83 L130.75,745.4 L135.44,750.97 L140.14,756.54 L144.85,762.11 L149.58,767.68 L154.32,773.25 L159.08,778.82 L163.86,784.39 L168.65,789.96 L173.45,795.53 L178.28,801.1 L183.12,806.67 L187.99,812.24 L192.88,817.81 L197.79,823.38 L202.72,828.95 L207.69,834.52 L212.68,840.09 L217.7,845.66 L222.75,851.23 L227.84,856.8 L232.98,862.37 L238.15,867.94 L243.38,873.51 L248.68,879.08 L254.04,884.65 L259.49,890.22 L265.05,895.79 L270.76,901.36 L276.72,906.93 L283.4,912.5" fill="none" stroke="#2b3a9e" stroke-width="2.1" stroke-dasharray="6.3 2.7"/>
<circle cx="84.5" cy="689.7" r="3.6" fill="#2b3a9e"/>
<circle cx="178.28" cy="805.56" r="3.6" fill="#2b3a9e"/>
<circle cx="215.53" cy="843.43" r="3.6" fill="#2b3a9e"/>
<circle cx="233.53" cy="861.26" r="3.6" fill="#2b3a9e"/>
<circle cx="247.49" cy="875.74" r="3.6" fill="#2b3a9e"/>
<circle cx="252.68" cy="881.31" r="3.6" fill="#2b3a9e"/>
<circle cx="261.08" cy="890.22" r="3.6" fill="#2b3a9e"/>
<circle cx="267.5" cy="896.9" r="3.6" fill="#2b3a9e"/>
<circle cx="274.05" cy="903.59" r="3.6" fill="#2b3a9e"/>
<circle cx="283.4" cy="912.5" r="3.6" fill="#2b3a9e"/>
<path d="M96.2,689.7 L102.97,695.27 L109.76,700.84 L116.58,706.41 L123.42,711.98 L130.3,717.55 L137.2,723.12 L144.14,728.69 L151.11,734.26 L158.11,739.83 L165.14,745.4 L172.21,750.97 L179.31,756.54 L186.46,762.11 L193.64,767.68 L200.87,773.25 L208.14,778.82 L215.45,784.39 L222.81,789.96 L230.22,795.53 L237.69,801.1 L245.21,806.67 L252.79,812.24 L260.44,817.81 L268.15,823.38 L275.94,828.95 L283.8,834.52 L291.75,840.09 L299.79,845.66 L307.93,851.23 L316.19,856.8 L324.56,862.37 L333.08,867.94 L341.77,873.51 L350.64,879.08 L359.73,884.65 L369.11,890.22 L378.85,895.79 L389.1,901.36 L400.18,906.93 L414,912.5" fill="none" stroke="#2b3a9e" stroke-width="2.1" stroke-dasharray="6.3 2.7"/>
<circle cx="96.2" cy="689.7" r="3.6" fill="#2b3a9e"/>
<circle cx="239.76" cy="805.56" r="3.6" fill="#2b3a9e"/>
<circle cx="299.02" cy="843.43" r="3.6" fill="#2b3a9e"/>
<circle cx="328.24" cy="861.26" r="3.6" fill="#2b3a9e"/>
<circle cx="351.21" cy="875.74" r="3.6" fill="#2b3a9e"/>
<circle cx="359.84" cy="881.31" r="3.6" fill="#2b3a9e"/>
<circle cx="373.99" cy="890.22" r="3.6" fill="#2b3a9e"/>
<circle cx="384.98" cy="896.9" r="3.6" fill="#2b3a9e"/>
<circle cx="396.46" cy="903.59" r="3.6" fill="#2b3a9e"/>
<circle cx="414" cy="912.5" r="3.6" fill="#2b3a9e"/>
<path d="M104.9,689.7 L113.77,695.27 L122.68,700.84 L131.62,706.41 L140.6,711.98 L149.61,717.55 L158.66,723.12 L167.76,728.69 L176.89,734.26 L186.07,739.83 L195.29,745.4 L204.56,750.97 L213.88,756.54 L223.25,762.11 L232.67,767.68 L242.14,773.25 L251.67,778.82 L261.26,784.39 L270.91,789.96 L280.63,795.53 L290.42,801.1 L300.28,806.67 L310.22,812.24 L320.25,817.81 L330.36,823.38 L340.57,828.95 L350.88,834.52 L361.3,840.09 L371.85,845.66 L382.52,851.23 L393.35,856.8 L404.33,862.37 L415.5,867.94 L426.89,873.51 L438.52,879.08 L450.45,884.65 L462.74,890.22 L475.51,895.79 L488.95,901.36 L503.48,906.93 L521.6,912.5" fill="none" stroke="#2b3a9e" stroke-width="2.1" stroke-dasharray="6.3 2.7"/>
<circle cx="104.9" cy="689.7" r="3.6" fill="#2b3a9e"/>
<circle cx="286.33" cy="805.56" r="3.6" fill="#2b3a9e"/>
<circle cx="363.61" cy="843.43" r="3.6" fill="#2b3a9e"/>
<circle cx="402.35" cy="861.26" r="3.6" fill="#2b3a9e"/>
<circle cx="433.12" cy="875.74" r="3.6" fill="#2b3a9e"/>
<circle cx="444.78" cy="881.31" r="3.6" fill="#2b3a9e"/>
<circle cx="464.08" cy="890.22" r="3.6" fill="#2b3a9e"/>
<circle cx="479.27" cy="896.9" r="3.6" fill="#2b3a9e"/>
<circle cx="495.44" cy="903.59" r="3.6" fill="#2b3a9e"/>
<circle cx="521.6" cy="912.5" r="3.6" fill="#2b3a9e"/>
</g>
<g stroke="#aaaaaa" stroke-width="1.5">
<line x1="151.5" y1="678" x2="151.5" y2="926"/>
<line x1="248.8" y1="678" x2="248.8" y2="926"/>
<line x1="346.1" y1="678" x2="346.1" y2="926"/>
<line x1="443.4" y1="678" x2="443.4" y2="926"/>
<line x1="63.7" y1="912.5" x2="543.3" y2="912.5"/>
<line x1="63.7" y1="867.94" x2="543.3" y2="867.94"/>
<line x1="63.7" y1="823.38" x2="543.3" y2="823.38"/>
<line x1="63.7" y1="778.82" x2="543.3" y2="778.82"/>
<line x1="63.7" y1="734.26" x2="543.3" y2="734.26"/>
<line x1="63.7" y1="689.7" x2="543.3" y2="689.7"/>
</g>
<rect x="63.7" y="678" width="479.6" height="248" fill="none" stroke="#000" stroke-width="1.8"/>
<g stroke="#000" stroke-width="1.7">
<line x1="57.4" y1="912.5" x2="63.7" y2="912.5"/>
<line x1="57.4" y1="867.94" x2="63.7" y2="867.94"/>
<line x1="57.4" y1="823.38" x2="63.7" y2="823.38"/>
<line x1="57.4" y1="778.82" x2="63.7" y2="778.82"/>
<line x1="57.4" y1="734.26" x2="63.7" y2="734.26"/>
<line x1="57.4" y1="689.7" x2="63.7" y2="689.7"/>
<line x1="151.5" y1="926" x2="151.5" y2="932.3"/>
<line x1="248.8" y1="926" x2="248.8" y2="932.3"/>
<line x1="346.1" y1="926" x2="346.1" y2="932.3"/>
<line x1="443.4" y1="926" x2="443.4" y2="932.3"/>
</g>
<text x="30.98" y="918.06" font-size="14.5" fill="#000" textLength="19.75" lengthAdjust="spacingAndGlyphs">0.0</text>
<text x="31.16" y="873.5" font-size="14.5" fill="#000" textLength="19.75" lengthAdjust="spacingAndGlyphs">0.2</text>
<text x="30.84" y="828.94" font-size="14.5" fill="#000" textLength="19.75" lengthAdjust="spacingAndGlyphs">0.4</text>
<text x="31.05" y="784.38" font-size="14.5" fill="#000" textLength="19.75" lengthAdjust="spacingAndGlyphs">0.6</text>
<text x="31.05" y="739.82" font-size="14.5" fill="#000" textLength="19.75" lengthAdjust="spacingAndGlyphs">0.8</text>
<text x="30.98" y="695.26" font-size="14.5" fill="#000" textLength="19.75" lengthAdjust="spacingAndGlyphs">1.0</text>
<text x="138.85" y="946.6" font-size="14.5" fill="#000" textLength="22.32" lengthAdjust="spacingAndGlyphs">100</text>
<text x="236.47" y="946.6" font-size="14.5" fill="#000" textLength="22.7" lengthAdjust="spacingAndGlyphs">200</text>
<text x="334.34" y="946.6" font-size="14.5" fill="#000" textLength="22.63" lengthAdjust="spacingAndGlyphs">300</text>
<text x="432.04" y="946.6" font-size="14.5" fill="#000" textLength="23.15" lengthAdjust="spacingAndGlyphs">400</text>
<text x="226.25" y="904.3" font-size="14.5" fill="#000" textLength="21.24" lengthAdjust="spacingAndGlyphs">60°</text>
<text x="341.75" y="904.3" font-size="14.5" fill="#000" textLength="19.99" lengthAdjust="spacingAndGlyphs">45°</text>
<text x="429.55" y="904.3" font-size="14.5" fill="#000" textLength="20.09" lengthAdjust="spacingAndGlyphs">30°</text>
<text transform="translate(18.3,825.33) rotate(-90)" x="0" y="0" font-size="14.3" fill="#000" textLength="29.54" lengthAdjust="spacingAndGlyphs">CMF</text>
<text transform="translate(21.3,794.56) rotate(-90)" x="0" y="0" font-size="8.6" fill="#000" textLength="13.73" lengthAdjust="spacingAndGlyphs">300</text>
<text x="168.04" y="972.7" font-size="13.9" fill="#000" textLength="224.77" lengthAdjust="spacingAndGlyphs">Radiance at  635 nm (TOA) [mW/(m</text>
<text x="393.21" y="967.1" font-size="8.34" fill="#000">2</text>
<text x="397.66" y="972.7" font-size="13.9" fill="#000" textLength="47.65" lengthAdjust="spacingAndGlyphs" xml:space="preserve"> nm sr)]</text>
<text x="6.41" y="687.6" font-size="18" font-weight="bold" fill="#000" textLength="20.58" lengthAdjust="spacingAndGlyphs">(c)</text>
<rect x="295.1" y="678.5" width="248.2" height="50.8" fill="#fff" stroke="#9a9a9a" stroke-width="1.1"/>
<circle cx="301.4" cy="686.4" r="4" fill="#6aaed6"/>
<text x="310.72" y="690.9" font-size="11.5" fill="#000" textLength="169.71" lengthAdjust="spacingAndGlyphs">alt.: 9 km, thickness 1 km (# 6)</text>
<circle cx="301.4" cy="702.4" r="4" fill="#4182c4"/>
<text x="310.72" y="706.9" font-size="11.5" fill="#000" textLength="176.73" lengthAdjust="spacingAndGlyphs">alt.: 10 km, thickness 1 km (# 7)</text>
<circle cx="301.4" cy="718.4" r="4" fill="#2b3a9e"/>
<text x="310.72" y="722.9" font-size="11.5" fill="#000" textLength="169.71" lengthAdjust="spacingAndGlyphs">alt.: 9 km, thickness 2 km (# 8)</text>
</svg></body></html>
